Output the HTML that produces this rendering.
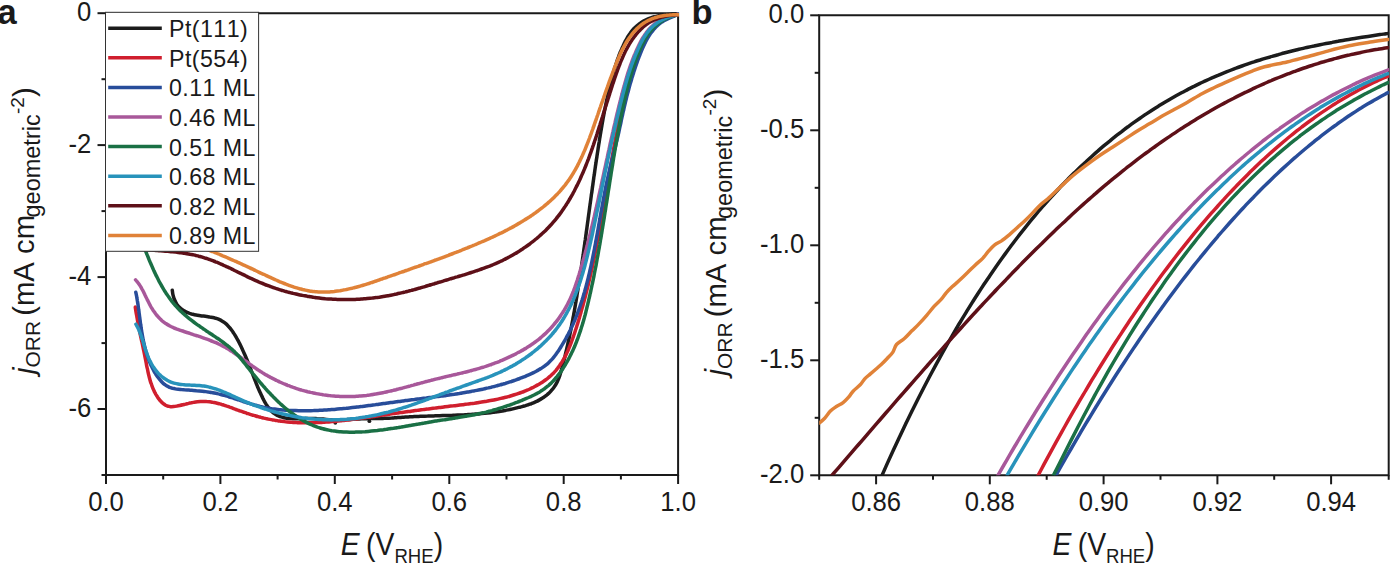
<!DOCTYPE html>
<html><head><meta charset="utf-8"><style>
html,body{margin:0;padding:0;background:#fff;overflow:hidden;}
svg{display:block;}
text{font-family:"Liberation Sans",sans-serif;fill:#1a1a1a;font-kerning:none;}
.tl{font-size:28.2px;}
.lg{font-size:23.2px;letter-spacing:0.45px;}
.al{font-size:28.5px;}
.xl{font-size:30.5px;}
.sub{font-size:20px;}
.sub2{font-size:23.5px;}
.sub3{font-size:21px;}
.yl{font-size:29.3px;}
.sup{font-size:19px;}
.pl{font-size:34.5px;font-weight:bold;}
.ax{stroke:#1a1a1a;stroke-width:2;fill:none;stroke-linecap:butt;}
.cv path{fill:none;stroke-width:3.5;stroke-linejoin:round;stroke-linecap:round;}
</style></head><body>
<svg width="1390" height="563" viewBox="0 0 1390 563">
<defs><clipPath id="ca"><rect x="106" y="12" width="573" height="463"/></clipPath>
<clipPath id="cb"><rect x="819.2" y="14" width="570" height="461.3"/></clipPath></defs>
<path d="M106.0,13.2 H678.1 V475.0 H106.0 Z" class="ax"/>
<path d="M106.0,475.0 v9" class="ax"/>
<path d="M220.4,475.0 v9" class="ax"/>
<path d="M334.8,475.0 v9" class="ax"/>
<path d="M449.3,475.0 v9" class="ax"/>
<path d="M563.7,475.0 v9" class="ax"/>
<path d="M678.1,475.0 v9" class="ax"/>
<path d="M163.2,475.0 v4.5" class="ax"/>
<path d="M277.6,475.0 v4.5" class="ax"/>
<path d="M392.1,475.0 v4.5" class="ax"/>
<path d="M506.5,475.0 v4.5" class="ax"/>
<path d="M620.9,475.0 v4.5" class="ax"/>
<path d="M106.0,13.2 h-8.5" class="ax"/>
<path d="M106.0,145.1 h-8.5" class="ax"/>
<path d="M106.0,277.1 h-8.5" class="ax"/>
<path d="M106.0,409.0 h-8.5" class="ax"/>
<path d="M106.0,79.2 h-4.5" class="ax"/>
<path d="M106.0,211.1 h-4.5" class="ax"/>
<path d="M106.0,343.1 h-4.5" class="ax"/>
<path d="M106.0,475.0 h-4.5" class="ax"/>
<text transform="translate(106.0,511.2) scale(0.91,1)" text-anchor="middle" class="tl">0.0</text>
<text transform="translate(220.4,511.2) scale(0.91,1)" text-anchor="middle" class="tl">0.2</text>
<text transform="translate(334.8,511.2) scale(0.91,1)" text-anchor="middle" class="tl">0.4</text>
<text transform="translate(449.3,511.2) scale(0.91,1)" text-anchor="middle" class="tl">0.6</text>
<text transform="translate(563.7,511.2) scale(0.91,1)" text-anchor="middle" class="tl">0.8</text>
<text transform="translate(678.1,511.2) scale(0.91,1)" text-anchor="middle" class="tl">1.0</text>
<text transform="translate(91.2,21.0) scale(0.91,1)" text-anchor="end" class="tl">0</text>
<text transform="translate(91.2,152.9) scale(0.91,1)" text-anchor="end" class="tl">-2</text>
<text transform="translate(91.2,284.9) scale(0.91,1)" text-anchor="end" class="tl">-4</text>
<text transform="translate(91.2,416.8) scale(0.91,1)" text-anchor="end" class="tl">-6</text>
<g class="cv" clip-path="url(#ca)">
<path d="M172.3,290.3 C172.4,290.8 172.5,292.3 172.7,293.3 C172.8,294.3 173.1,295.3 173.4,296.4 C173.6,297.4 174.0,298.4 174.4,299.3 C174.7,300.3 175.2,301.2 175.7,302.1 C176.1,303.0 176.7,303.9 177.2,304.7 C177.8,305.5 178.4,306.3 179.1,307.0 C179.7,307.7 180.4,308.3 181.2,308.9 C181.9,309.5 182.7,310.1 183.5,310.6 C184.3,311.1 185.1,311.5 186.0,311.9 C186.9,312.3 187.7,312.7 188.7,313.0 C189.6,313.4 190.5,313.7 191.5,314.0 C192.4,314.2 193.4,314.5 194.4,314.7 C195.4,314.9 196.4,315.1 197.4,315.2 C198.4,315.4 199.5,315.6 200.5,315.7 C201.5,315.9 202.6,316.0 203.6,316.1 C204.7,316.2 205.7,316.4 206.7,316.5 C207.8,316.7 208.8,316.8 209.8,317.0 C210.8,317.1 211.8,317.3 212.8,317.5 C213.8,317.7 214.8,318.0 215.7,318.3 C216.7,318.5 217.6,318.8 218.5,319.2 C219.4,319.6 220.3,320.0 221.1,320.4 C221.9,320.9 222.7,321.4 223.5,321.9 C224.3,322.5 225.1,323.1 225.8,323.7 C226.5,324.3 227.2,325.0 227.9,325.7 C228.6,326.4 229.2,327.2 229.9,327.9 C230.5,328.7 231.1,329.5 231.7,330.3 C232.3,331.1 232.9,331.9 233.4,332.8 C234.0,333.6 234.5,334.5 235.1,335.4 C235.6,336.3 236.1,337.1 236.6,338.0 C237.1,338.9 237.6,339.8 238.1,340.7 C238.6,341.6 239.0,342.5 239.5,343.4 C240.0,344.3 240.4,345.2 240.9,346.1 C241.3,347.0 241.7,347.9 242.2,348.8 C242.6,349.8 243.0,350.7 243.4,351.6 C243.8,352.5 244.2,353.4 244.6,354.3 C245.0,355.2 245.4,356.1 245.8,357.0 C246.2,358.0 246.6,358.9 247.0,359.8 C247.3,360.7 247.7,361.6 248.1,362.5 C248.4,363.5 248.8,364.4 249.2,365.3 C249.5,366.2 249.9,367.1 250.3,368.1 C250.6,369.0 251.0,369.9 251.3,370.8 C251.7,371.8 252.0,372.7 252.4,373.6 C252.8,374.5 253.1,375.5 253.5,376.4 C253.8,377.3 254.2,378.2 254.6,379.2 C254.9,380.1 255.3,381.0 255.7,381.9 C256.0,382.9 256.4,383.8 256.8,384.7 C257.2,385.6 257.5,386.6 257.9,387.5 C258.3,388.4 258.7,389.3 259.1,390.3 C259.5,391.2 259.9,392.1 260.4,393.0 C260.8,394.0 261.2,394.9 261.7,395.8 C262.1,396.7 262.5,397.6 263.0,398.6 C263.5,399.5 263.9,400.4 264.4,401.3 C264.9,402.2 265.4,403.1 265.9,403.9 C266.5,404.8 267.0,405.7 267.6,406.5 C268.2,407.3 268.7,408.1 269.4,408.9 C270.0,409.6 270.6,410.4 271.3,411.0 C272.0,411.7 272.7,412.4 273.5,413.0 C274.2,413.6 275.0,414.1 275.8,414.6 C276.6,415.1 277.5,415.6 278.4,415.9 C279.3,416.3 280.2,416.7 281.2,416.9 C282.1,417.2 283.1,417.5 284.1,417.7 C285.1,417.9 286.1,418.0 287.1,418.2 C288.1,418.3 289.1,418.4 290.1,418.5 C291.1,418.6 292.1,418.6 293.1,418.7 C294.1,418.7 295.2,418.7 296.2,418.8 C297.2,418.8 298.2,418.8 299.2,418.8 C300.2,418.7 301.2,418.7 302.2,418.7 C303.2,418.7 304.2,418.6 305.2,418.6 C306.2,418.6 307.3,418.6 308.3,418.6 C309.3,418.5 310.3,418.5 311.3,418.5 C312.3,418.5 313.3,418.5 314.3,418.5 C315.3,418.6 316.3,418.6 317.2,418.7 C318.2,418.7 319.2,418.8 320.2,418.9 C321.2,419.0 322.2,419.1 323.2,419.1 C324.2,419.2 325.2,419.3 326.2,419.4 C327.1,419.5 328.1,419.6 329.1,419.7 C330.1,419.8 331.1,419.9 332.1,419.9 C333.1,420.0 334.1,420.0 335.1,420.0 C336.0,420.1 337.0,420.1 338.0,420.1 C339.0,420.0 340.0,420.0 341.0,420.0 C342.0,419.9 343.0,419.9 344.0,419.8 C345.0,419.7 346.0,419.6 347.0,419.6 C348.0,419.5 349.0,419.4 350.0,419.4 C351.0,419.3 352.0,419.2 353.0,419.1 C354.0,419.1 355.0,419.0 356.0,419.0 C357.0,418.9 358.0,418.9 359.0,418.9 C360.0,418.8 360.9,418.8 361.9,418.8 C362.9,418.7 363.9,418.7 364.9,418.7 C365.9,418.7 366.9,418.7 367.9,418.7 C368.9,418.6 369.9,418.6 370.9,418.6 C371.9,418.6 372.9,418.6 373.9,418.6 C374.9,418.6 375.9,418.6 376.9,418.5 C377.9,418.5 378.9,418.5 379.9,418.5 C380.9,418.5 381.9,418.4 382.9,418.4 C383.9,418.4 384.8,418.3 385.8,418.3 C386.8,418.3 387.8,418.2 388.8,418.2 C389.8,418.1 390.8,418.0 391.8,418.0 C392.8,417.9 393.8,417.9 394.8,417.8 C395.8,417.7 396.8,417.7 397.8,417.6 C398.8,417.5 399.8,417.5 400.8,417.4 C401.8,417.3 402.8,417.3 403.8,417.2 C404.8,417.1 405.8,417.1 406.8,417.0 C407.8,416.9 408.8,416.9 409.8,416.8 C410.7,416.8 411.7,416.7 412.7,416.7 C413.7,416.6 414.7,416.6 415.7,416.5 C416.7,416.5 417.7,416.4 418.7,416.4 C419.7,416.4 420.7,416.3 421.7,416.3 C422.7,416.2 423.7,416.2 424.7,416.2 C425.7,416.1 426.7,416.1 427.7,416.1 C428.7,416.0 429.7,416.0 430.7,416.0 C431.7,416.0 432.7,415.9 433.7,415.9 C434.7,415.9 435.7,415.8 436.7,415.8 C437.7,415.8 438.7,415.8 439.7,415.7 C440.7,415.7 441.7,415.7 442.7,415.6 C443.7,415.6 444.7,415.6 445.7,415.6 C446.7,415.5 447.7,415.5 448.7,415.5 C449.7,415.4 450.7,415.4 451.7,415.4 C452.7,415.3 453.7,415.3 454.7,415.2 C455.7,415.2 456.7,415.2 457.7,415.1 C458.7,415.1 459.7,415.0 460.7,415.0 C461.7,415.0 462.7,414.9 463.7,414.9 C464.6,414.8 465.6,414.8 466.6,414.7 C467.6,414.6 468.6,414.6 469.6,414.5 C470.6,414.5 471.6,414.4 472.6,414.3 C473.6,414.3 474.6,414.2 475.6,414.1 C476.6,414.0 477.6,414.0 478.6,413.9 C479.6,413.8 480.6,413.7 481.6,413.6 C482.5,413.5 483.5,413.4 484.5,413.3 C485.5,413.2 486.5,413.1 487.5,413.0 C488.5,412.9 489.5,412.8 490.5,412.7 C491.5,412.5 492.5,412.4 493.4,412.3 C494.4,412.2 495.4,412.0 496.4,411.9 C497.4,411.7 498.4,411.6 499.4,411.4 C500.3,411.3 501.3,411.1 502.3,411.0 C503.3,410.8 504.3,410.6 505.3,410.4 C506.2,410.3 507.2,410.1 508.2,409.9 C509.2,409.7 510.2,409.5 511.1,409.3 C512.1,409.1 513.1,408.8 514.0,408.6 C515.0,408.4 516.0,408.2 516.9,407.9 C517.9,407.7 518.9,407.5 519.8,407.2 C520.8,406.9 521.8,406.7 522.7,406.4 C523.7,406.1 524.6,405.9 525.6,405.6 C526.5,405.3 527.5,405.0 528.4,404.7 C529.4,404.4 530.3,404.0 531.3,403.7 C532.2,403.3 533.1,403.0 534.0,402.6 C535.0,402.2 535.9,401.8 536.8,401.3 C537.7,400.9 538.6,400.4 539.5,399.9 C540.4,399.4 541.2,398.9 542.1,398.3 C542.9,397.8 543.8,397.2 544.6,396.6 C545.4,396.0 546.2,395.4 547.0,394.8 C547.8,394.1 548.5,393.4 549.3,392.8 C550.0,392.1 550.7,391.3 551.3,390.6 C552.0,389.9 552.7,389.1 553.3,388.3 C553.9,387.5 554.4,386.7 554.9,385.9 C555.5,385.1 556.0,384.2 556.4,383.4 C556.9,382.5 557.3,381.6 557.7,380.7 C558.1,379.8 558.5,378.9 558.9,378.0 C559.2,377.0 559.5,376.1 559.9,375.2 C560.2,374.2 560.5,373.3 560.8,372.3 C561.1,371.4 561.3,370.4 561.6,369.4 C561.9,368.4 562.1,367.5 562.4,366.5 C562.6,365.5 562.9,364.6 563.1,363.6 C563.4,362.6 563.6,361.6 563.9,360.7 C564.1,359.7 564.4,358.7 564.6,357.8 C564.9,356.8 565.1,355.8 565.3,354.8 C565.6,353.9 565.8,352.9 566.0,351.9 C566.2,350.9 566.5,350.0 566.7,349.0 C566.9,348.0 567.1,347.0 567.4,346.1 C567.6,345.1 567.8,344.1 568.0,343.1 C568.2,342.2 568.4,341.2 568.6,340.2 C568.9,339.2 569.1,338.3 569.3,337.3 C569.5,336.3 569.7,335.3 569.9,334.3 C570.1,333.4 570.3,332.4 570.5,331.4 C570.7,330.4 570.9,329.4 571.1,328.5 C571.3,327.5 571.4,326.5 571.6,325.5 C571.8,324.6 572.0,323.6 572.2,322.6 C572.4,321.6 572.6,320.6 572.8,319.7 C572.9,318.7 573.1,317.7 573.3,316.7 C573.5,315.7 573.7,314.8 573.8,313.8 C574.0,312.8 574.2,311.8 574.4,310.8 C574.5,309.8 574.7,308.9 574.9,307.9 C575.0,306.9 575.2,305.9 575.4,304.9 C575.5,303.9 575.7,303.0 575.9,302.0 C576.0,301.0 576.2,300.0 576.4,299.0 C576.5,298.0 576.7,297.1 576.9,296.1 C577.0,295.1 577.2,294.1 577.3,293.1 C577.5,292.1 577.7,291.2 577.8,290.2 C578.0,289.2 578.1,288.2 578.3,287.2 C578.4,286.2 578.6,285.3 578.8,284.3 C578.9,283.3 579.1,282.3 579.2,281.3 C579.4,280.3 579.5,279.3 579.7,278.4 C579.8,277.4 580.0,276.4 580.1,275.4 C580.3,274.4 580.4,273.4 580.6,272.4 C580.7,271.5 580.9,270.5 581.0,269.5 C581.2,268.5 581.3,267.5 581.5,266.5 C581.6,265.5 581.7,264.5 581.9,263.6 C582.0,262.6 582.2,261.6 582.3,260.6 C582.5,259.6 582.6,258.6 582.7,257.6 C582.9,256.6 583.0,255.7 583.2,254.7 C583.3,253.7 583.5,252.7 583.6,251.7 C583.7,250.7 583.9,249.7 584.0,248.7 C584.1,247.8 584.3,246.8 584.4,245.8 C584.6,244.8 584.7,243.8 584.8,242.8 C585.0,241.8 585.1,240.8 585.3,239.8 C585.4,238.9 585.5,237.9 585.7,236.9 C585.8,235.9 585.9,234.9 586.1,233.9 C586.2,232.9 586.3,231.9 586.5,230.9 C586.6,230.0 586.8,229.0 586.9,228.0 C587.0,227.0 587.2,226.0 587.3,225.0 C587.4,224.0 587.6,223.0 587.7,222.0 C587.8,221.1 588.0,220.1 588.1,219.1 C588.2,218.1 588.4,217.1 588.5,216.1 C588.6,215.1 588.8,214.1 588.9,213.1 C589.0,212.1 589.2,211.2 589.3,210.2 C589.4,209.2 589.6,208.2 589.7,207.2 C589.9,206.2 590.0,205.2 590.1,204.2 C590.3,203.2 590.4,202.3 590.5,201.3 C590.7,200.3 590.8,199.3 590.9,198.3 C591.1,197.3 591.2,196.3 591.3,195.3 C591.5,194.3 591.6,193.4 591.8,192.4 C591.9,191.4 592.0,190.4 592.2,189.4 C592.3,188.4 592.4,187.4 592.6,186.4 C592.7,185.4 592.9,184.5 593.0,183.5 C593.1,182.5 593.3,181.5 593.4,180.5 C593.6,179.5 593.7,178.5 593.8,177.5 C594.0,176.5 594.1,175.6 594.3,174.6 C594.4,173.6 594.5,172.6 594.7,171.6 C594.8,170.6 595.0,169.6 595.1,168.6 C595.3,167.6 595.4,166.7 595.5,165.7 C595.7,164.7 595.8,163.7 596.0,162.7 C596.1,161.7 596.3,160.7 596.4,159.7 C596.6,158.8 596.7,157.8 596.9,156.8 C597.0,155.8 597.2,154.8 597.3,153.8 C597.5,152.8 597.6,151.8 597.8,150.9 C597.9,149.9 598.1,148.9 598.2,147.9 C598.4,146.9 598.5,145.9 598.7,144.9 C598.8,144.0 599.0,143.0 599.2,142.0 C599.3,141.0 599.5,140.0 599.6,139.0 C599.8,138.0 600.0,137.0 600.1,136.1 C600.3,135.1 600.4,134.1 600.6,133.1 C600.8,132.1 600.9,131.1 601.1,130.2 C601.3,129.2 601.4,128.2 601.6,127.2 C601.8,126.2 601.9,125.2 602.1,124.2 C602.3,123.3 602.4,122.3 602.6,121.3 C602.8,120.3 603.0,119.3 603.1,118.3 C603.3,117.4 603.5,116.4 603.7,115.4 C603.9,114.4 604.0,113.4 604.2,112.5 C604.4,111.5 604.6,110.5 604.8,109.5 C605.0,108.5 605.2,107.6 605.4,106.6 C605.6,105.6 605.8,104.6 606.0,103.6 C606.2,102.7 606.4,101.7 606.6,100.7 C606.8,99.7 607.0,98.8 607.2,97.8 C607.4,96.8 607.6,95.8 607.8,94.9 C608.0,93.9 608.3,92.9 608.5,91.9 C608.7,91.0 608.9,90.0 609.2,89.0 C609.4,88.1 609.6,87.1 609.9,86.1 C610.1,85.1 610.3,84.2 610.6,83.2 C610.8,82.2 611.1,81.3 611.3,80.3 C611.6,79.3 611.8,78.4 612.1,77.4 C612.3,76.4 612.6,75.5 612.9,74.5 C613.1,73.6 613.4,72.6 613.7,71.6 C613.9,70.7 614.2,69.7 614.5,68.8 C614.8,67.8 615.1,66.9 615.4,65.9 C615.7,64.9 616.0,64.0 616.3,63.1 C616.6,62.1 617.0,61.2 617.3,60.2 C617.6,59.3 617.9,58.3 618.3,57.4 C618.6,56.5 619.0,55.5 619.3,54.6 C619.7,53.7 620.1,52.7 620.5,51.8 C620.8,50.9 621.2,50.0 621.6,49.1 C622.0,48.1 622.4,47.2 622.9,46.3 C623.3,45.4 623.7,44.5 624.1,43.6 C624.6,42.7 625.0,41.8 625.5,40.9 C626.0,40.0 626.5,39.2 627.0,38.3 C627.5,37.4 628.0,36.6 628.5,35.7 C629.0,34.9 629.6,34.1 630.2,33.3 C630.8,32.4 631.4,31.7 632.0,30.9 C632.6,30.1 633.3,29.4 633.9,28.6 C634.6,27.9 635.3,27.2 636.1,26.5 C636.8,25.9 637.6,25.2 638.4,24.6 C639.1,24.0 640.0,23.4 640.8,22.8 C641.6,22.3 642.5,21.7 643.3,21.2 C644.2,20.8 645.1,20.3 646.0,19.9 C646.9,19.4 647.8,19.0 648.7,18.6 C649.6,18.3 650.6,17.9 651.5,17.6 C652.5,17.3 653.4,17.0 654.4,16.8 C655.3,16.5 656.3,16.3 657.3,16.1 C658.3,15.9 659.3,15.7 660.2,15.5 C661.2,15.3 662.2,15.2 663.2,15.0 C664.2,14.9 665.2,14.8 666.2,14.7 C667.2,14.6 668.2,14.5 669.2,14.4 C670.2,14.3 671.2,14.2 672.2,14.1 C673.2,14.1 674.2,14.0 675.1,13.9 C676.1,13.9 677.6,13.8 678.1,13.8" stroke="#1c1c1c"/>
<circle cx="335.3" cy="422.8" r="1.9" fill="#1c1c1c"/>
<circle cx="369.4" cy="421.2" r="1.9" fill="#1c1c1c"/>
<path d="M135.3,307.1 C135.3,307.6 135.6,309.1 135.7,310.1 C135.9,311.2 136.1,312.2 136.2,313.2 C136.4,314.2 136.6,315.2 136.8,316.2 C136.9,317.2 137.1,318.1 137.3,319.1 C137.5,320.1 137.7,321.1 137.8,322.1 C138.0,323.1 138.2,324.0 138.4,325.0 C138.6,326.0 138.8,326.9 139.0,327.9 C139.2,328.9 139.4,329.8 139.6,330.8 C139.8,331.8 139.9,332.7 140.1,333.7 C140.3,334.6 140.5,335.6 140.7,336.6 C140.9,337.5 141.1,338.5 141.3,339.4 C141.5,340.4 141.7,341.4 142.0,342.3 C142.2,343.3 142.4,344.2 142.6,345.2 C142.8,346.2 143.0,347.1 143.2,348.1 C143.4,349.1 143.6,350.0 143.8,351.0 C144.0,352.0 144.2,353.0 144.4,353.9 C144.6,354.9 144.8,355.9 145.0,356.9 C145.2,357.9 145.4,358.8 145.6,359.8 C145.8,360.8 146.0,361.8 146.2,362.8 C146.3,363.8 146.5,364.8 146.7,365.8 C146.9,366.8 147.1,367.8 147.4,368.8 C147.6,369.9 147.8,370.9 148.0,371.9 C148.2,372.9 148.4,373.9 148.7,374.9 C148.9,375.8 149.2,376.8 149.4,377.8 C149.7,378.8 150.0,379.8 150.2,380.8 C150.5,381.7 150.8,382.7 151.2,383.6 C151.5,384.6 151.8,385.5 152.2,386.5 C152.5,387.4 152.9,388.3 153.3,389.2 C153.7,390.2 154.1,391.1 154.5,391.9 C155.0,392.8 155.5,393.7 155.9,394.5 C156.4,395.4 157.0,396.2 157.5,397.0 C158.1,397.9 158.6,398.7 159.2,399.4 C159.8,400.2 160.5,401.0 161.1,401.7 C161.8,402.3 162.5,403.0 163.3,403.6 C164.0,404.2 164.8,404.7 165.6,405.2 C166.4,405.6 167.2,406.0 168.1,406.2 C168.9,406.5 169.9,406.6 170.8,406.7 C171.7,406.8 172.7,406.7 173.7,406.6 C174.7,406.5 175.7,406.3 176.7,406.1 C177.7,405.9 178.7,405.7 179.7,405.5 C180.7,405.3 181.6,405.1 182.6,404.8 C183.6,404.6 184.6,404.3 185.6,404.1 C186.6,403.9 187.6,403.6 188.6,403.4 C189.5,403.2 190.5,403.0 191.5,402.8 C192.5,402.5 193.5,402.4 194.5,402.2 C195.5,402.0 196.5,401.9 197.5,401.8 C198.5,401.7 199.5,401.6 200.5,401.5 C201.5,401.5 202.6,401.4 203.6,401.5 C204.6,401.5 205.6,401.5 206.6,401.6 C207.6,401.6 208.6,401.7 209.6,401.8 C210.6,402.0 211.6,402.1 212.6,402.3 C213.6,402.4 214.6,402.6 215.5,402.8 C216.5,403.0 217.5,403.3 218.4,403.5 C219.4,403.8 220.3,404.0 221.3,404.3 C222.2,404.6 223.2,404.9 224.1,405.2 C225.1,405.5 226.0,405.8 226.9,406.1 C227.9,406.4 228.8,406.8 229.7,407.1 C230.7,407.4 231.6,407.8 232.5,408.1 C233.5,408.5 234.4,408.8 235.3,409.2 C236.3,409.5 237.2,409.9 238.1,410.2 C239.1,410.5 240.0,410.9 240.9,411.2 C241.9,411.6 242.8,411.9 243.8,412.2 C244.7,412.5 245.7,412.9 246.6,413.2 C247.6,413.5 248.5,413.8 249.5,414.1 C250.4,414.4 251.4,414.7 252.3,415.0 C253.3,415.3 254.2,415.5 255.2,415.8 C256.2,416.1 257.1,416.4 258.1,416.6 C259.0,416.9 260.0,417.1 261.0,417.4 C261.9,417.6 262.9,417.9 263.9,418.1 C264.8,418.3 265.8,418.6 266.8,418.8 C267.8,419.0 268.7,419.2 269.7,419.4 C270.7,419.6 271.7,419.8 272.6,419.9 C273.6,420.1 274.6,420.3 275.6,420.4 C276.5,420.6 277.5,420.8 278.5,420.9 C279.5,421.0 280.4,421.2 281.4,421.3 C282.4,421.4 283.4,421.5 284.4,421.6 C285.3,421.8 286.3,421.9 287.3,421.9 C288.3,422.0 289.3,422.1 290.3,422.2 C291.3,422.3 292.2,422.3 293.2,422.4 C294.2,422.5 295.2,422.5 296.2,422.6 C297.2,422.6 298.2,422.7 299.1,422.7 C300.1,422.7 301.1,422.7 302.1,422.8 C303.1,422.8 304.1,422.8 305.1,422.8 C306.1,422.8 307.1,422.8 308.1,422.8 C309.0,422.8 310.0,422.8 311.0,422.8 C312.0,422.8 313.0,422.7 314.0,422.7 C315.0,422.7 316.0,422.6 317.0,422.6 C318.0,422.6 319.0,422.5 320.0,422.5 C321.0,422.4 322.0,422.4 323.0,422.3 C324.0,422.2 325.0,422.2 325.9,422.1 C326.9,422.0 327.9,422.0 328.9,421.9 C329.9,421.8 330.9,421.7 331.9,421.6 C332.9,421.5 333.9,421.5 334.9,421.4 C335.9,421.3 336.9,421.2 337.9,421.1 C338.9,421.0 339.9,420.9 340.9,420.8 C341.9,420.7 342.9,420.5 343.9,420.4 C344.9,420.3 345.9,420.2 346.9,420.1 C347.9,420.0 348.9,419.8 349.9,419.7 C350.9,419.6 351.9,419.5 352.9,419.3 C353.9,419.2 354.9,419.1 355.9,418.9 C356.9,418.8 357.9,418.7 358.9,418.5 C359.9,418.4 360.9,418.3 361.9,418.1 C362.9,418.0 363.8,417.8 364.8,417.7 C365.8,417.6 366.8,417.4 367.8,417.3 C368.8,417.1 369.8,417.0 370.8,416.9 C371.8,416.7 372.8,416.6 373.8,416.4 C374.8,416.3 375.8,416.1 376.8,416.0 C377.8,415.8 378.8,415.7 379.8,415.5 C380.8,415.4 381.8,415.3 382.8,415.1 C383.8,415.0 384.7,414.8 385.7,414.7 C386.7,414.5 387.7,414.4 388.7,414.3 C389.7,414.1 390.7,414.0 391.7,413.8 C392.7,413.7 393.7,413.6 394.7,413.4 C395.6,413.3 396.6,413.1 397.6,413.0 C398.6,412.9 399.6,412.7 400.6,412.6 C401.6,412.5 402.6,412.3 403.6,412.2 C404.5,412.1 405.5,411.9 406.5,411.8 C407.5,411.7 408.5,411.5 409.5,411.4 C410.5,411.3 411.4,411.1 412.4,411.0 C413.4,410.9 414.4,410.7 415.4,410.6 C416.4,410.5 417.4,410.3 418.3,410.2 C419.3,410.1 420.3,410.0 421.3,409.8 C422.3,409.7 423.3,409.6 424.3,409.4 C425.2,409.3 426.2,409.2 427.2,409.1 C428.2,408.9 429.2,408.8 430.2,408.7 C431.1,408.6 432.1,408.4 433.1,408.3 C434.1,408.2 435.1,408.1 436.1,407.9 C437.0,407.8 438.0,407.7 439.0,407.6 C440.0,407.5 441.0,407.3 442.0,407.2 C442.9,407.1 443.9,407.0 444.9,406.8 C445.9,406.7 446.9,406.6 447.9,406.5 C448.8,406.4 449.8,406.2 450.8,406.1 C451.8,406.0 452.8,405.9 453.7,405.8 C454.7,405.6 455.7,405.5 456.7,405.4 C457.7,405.3 458.7,405.2 459.6,405.0 C460.6,404.9 461.6,404.8 462.6,404.7 C463.6,404.6 464.6,404.4 465.5,404.3 C466.5,404.2 467.5,404.1 468.5,403.9 C469.5,403.8 470.5,403.7 471.4,403.6 C472.4,403.4 473.4,403.3 474.4,403.2 C475.4,403.0 476.4,402.9 477.3,402.7 C478.3,402.6 479.3,402.4 480.3,402.3 C481.3,402.2 482.3,402.0 483.2,401.8 C484.2,401.7 485.2,401.5 486.2,401.4 C487.2,401.2 488.2,401.0 489.1,400.8 C490.1,400.7 491.1,400.5 492.1,400.3 C493.1,400.1 494.1,399.9 495.0,399.7 C496.0,399.5 497.0,399.3 498.0,399.1 C499.0,398.9 500.0,398.7 500.9,398.4 C501.9,398.2 502.9,398.0 503.9,397.7 C504.9,397.5 505.9,397.2 506.8,397.0 C507.8,396.7 508.8,396.5 509.8,396.2 C510.8,395.9 511.7,395.6 512.7,395.3 C513.7,395.0 514.7,394.7 515.6,394.4 C516.6,394.1 517.6,393.8 518.6,393.4 C519.5,393.1 520.5,392.8 521.4,392.4 C522.4,392.1 523.4,391.7 524.3,391.3 C525.3,391.0 526.2,390.6 527.1,390.2 C528.1,389.8 529.0,389.4 529.9,389.0 C530.8,388.5 531.7,388.1 532.6,387.7 C533.5,387.2 534.4,386.8 535.3,386.3 C536.2,385.8 537.1,385.3 537.9,384.8 C538.8,384.4 539.6,383.8 540.5,383.3 C541.3,382.8 542.1,382.3 543.0,381.7 C543.8,381.2 544.6,380.6 545.4,380.0 C546.1,379.5 546.9,378.9 547.7,378.3 C548.4,377.7 549.2,377.0 549.9,376.4 C550.6,375.8 551.3,375.1 552.0,374.4 C552.7,373.8 553.4,373.1 554.1,372.4 C554.7,371.7 555.4,371.0 556.0,370.3 C556.6,369.5 557.2,368.8 557.8,368.0 C558.4,367.3 559.0,366.5 559.5,365.7 C560.1,364.9 560.6,364.1 561.1,363.3 C561.7,362.5 562.2,361.7 562.7,360.8 C563.2,360.0 563.7,359.1 564.1,358.3 C564.6,357.4 565.1,356.6 565.5,355.7 C566.0,354.8 566.4,353.9 566.8,353.0 C567.2,352.1 567.6,351.2 568.1,350.3 C568.5,349.4 568.9,348.5 569.2,347.5 C569.6,346.6 570.0,345.7 570.4,344.8 C570.7,343.8 571.1,342.9 571.5,341.9 C571.8,341.0 572.2,340.0 572.5,339.1 C572.8,338.1 573.2,337.2 573.5,336.2 C573.8,335.2 574.2,334.3 574.5,333.3 C574.8,332.4 575.1,331.4 575.4,330.4 C575.8,329.5 576.1,328.5 576.4,327.5 C576.7,326.6 577.0,325.6 577.3,324.6 C577.6,323.7 577.9,322.7 578.2,321.7 C578.5,320.8 578.8,319.8 579.1,318.8 C579.4,317.9 579.6,316.9 579.9,315.9 C580.2,315.0 580.5,314.0 580.8,313.0 C581.1,312.1 581.3,311.1 581.6,310.1 C581.9,309.1 582.1,308.2 582.4,307.2 C582.7,306.2 583.0,305.3 583.2,304.3 C583.5,303.3 583.7,302.4 584.0,301.4 C584.3,300.4 584.5,299.4 584.8,298.5 C585.0,297.5 585.3,296.5 585.5,295.6 C585.8,294.6 586.0,293.6 586.3,292.6 C586.5,291.7 586.8,290.7 587.0,289.7 C587.2,288.8 587.5,287.8 587.7,286.8 C588.0,285.8 588.2,284.9 588.4,283.9 C588.7,282.9 588.9,282.0 589.1,281.0 C589.3,280.0 589.6,279.0 589.8,278.1 C590.0,277.1 590.2,276.1 590.5,275.1 C590.7,274.2 590.9,273.2 591.1,272.2 C591.3,271.2 591.5,270.3 591.8,269.3 C592.0,268.3 592.2,267.3 592.4,266.4 C592.6,265.4 592.8,264.4 593.0,263.4 C593.2,262.5 593.4,261.5 593.6,260.5 C593.8,259.5 594.0,258.6 594.2,257.6 C594.4,256.6 594.6,255.6 594.8,254.7 C595.0,253.7 595.2,252.7 595.4,251.7 C595.6,250.8 595.8,249.8 596.0,248.8 C596.2,247.8 596.4,246.8 596.6,245.9 C596.8,244.9 597.0,243.9 597.1,242.9 C597.3,242.0 597.5,241.0 597.7,240.0 C597.9,239.0 598.1,238.0 598.3,237.1 C598.4,236.1 598.6,235.1 598.8,234.1 C599.0,233.2 599.2,232.2 599.3,231.2 C599.5,230.2 599.7,229.2 599.9,228.3 C600.1,227.3 600.2,226.3 600.4,225.3 C600.6,224.4 600.8,223.4 600.9,222.4 C601.1,221.4 601.3,220.4 601.5,219.5 C601.6,218.5 601.8,217.5 602.0,216.5 C602.1,215.5 602.3,214.6 602.5,213.6 C602.7,212.6 602.8,211.6 603.0,210.6 C603.2,209.7 603.3,208.7 603.5,207.7 C603.7,206.7 603.8,205.7 604.0,204.8 C604.2,203.8 604.3,202.8 604.5,201.8 C604.7,200.9 604.8,199.9 605.0,198.9 C605.2,197.9 605.3,196.9 605.5,196.0 C605.7,195.0 605.8,194.0 606.0,193.0 C606.2,192.0 606.3,191.1 606.5,190.1 C606.7,189.1 606.8,188.1 607.0,187.1 C607.2,186.2 607.3,185.2 607.5,184.2 C607.7,183.2 607.8,182.2 608.0,181.2 C608.2,180.3 608.3,179.3 608.5,178.3 C608.7,177.3 608.8,176.3 609.0,175.4 C609.2,174.4 609.3,173.4 609.5,172.4 C609.7,171.4 609.8,170.5 610.0,169.5 C610.2,168.5 610.4,167.5 610.5,166.5 C610.7,165.6 610.9,164.6 611.0,163.6 C611.2,162.6 611.4,161.6 611.6,160.7 C611.7,159.7 611.9,158.7 612.1,157.7 C612.2,156.7 612.4,155.8 612.6,154.8 C612.8,153.8 612.9,152.8 613.1,151.8 C613.3,150.9 613.5,149.9 613.6,148.9 C613.8,147.9 614.0,146.9 614.2,146.0 C614.4,145.0 614.5,144.0 614.7,143.0 C614.9,142.0 615.1,141.1 615.3,140.1 C615.5,139.1 615.6,138.1 615.8,137.1 C616.0,136.2 616.2,135.2 616.4,134.2 C616.6,133.2 616.8,132.2 617.0,131.3 C617.1,130.3 617.3,129.3 617.5,128.3 C617.7,127.4 617.9,126.4 618.1,125.4 C618.3,124.4 618.5,123.4 618.7,122.5 C618.9,121.5 619.1,120.5 619.3,119.5 C619.5,118.5 619.7,117.6 619.9,116.6 C620.1,115.6 620.3,114.6 620.5,113.7 C620.7,112.7 621.0,111.7 621.2,110.7 C621.4,109.7 621.6,108.8 621.8,107.8 C622.0,106.8 622.2,105.8 622.5,104.9 C622.7,103.9 622.9,102.9 623.1,101.9 C623.4,101.0 623.6,100.0 623.8,99.0 C624.0,98.0 624.3,97.1 624.5,96.1 C624.8,95.1 625.0,94.2 625.2,93.2 C625.5,92.2 625.7,91.3 626.0,90.3 C626.2,89.3 626.5,88.3 626.7,87.4 C627.0,86.4 627.2,85.5 627.5,84.5 C627.8,83.5 628.0,82.6 628.3,81.6 C628.6,80.6 628.8,79.7 629.1,78.7 C629.4,77.8 629.7,76.8 630.0,75.9 C630.2,74.9 630.5,73.9 630.8,73.0 C631.1,72.0 631.4,71.1 631.7,70.1 C632.0,69.2 632.3,68.2 632.6,67.3 C632.9,66.3 633.3,65.4 633.6,64.5 C633.9,63.5 634.2,62.6 634.5,61.6 C634.9,60.7 635.2,59.7 635.5,58.8 C635.9,57.9 636.2,56.9 636.6,56.0 C636.9,55.1 637.3,54.1 637.6,53.2 C638.0,52.3 638.4,51.4 638.7,50.4 C639.1,49.5 639.5,48.6 639.9,47.7 C640.2,46.8 640.6,45.8 641.0,44.9 C641.4,44.0 641.9,43.1 642.3,42.2 C642.7,41.3 643.2,40.4 643.6,39.6 C644.1,38.7 644.6,37.8 645.1,36.9 C645.6,36.1 646.1,35.2 646.6,34.4 C647.2,33.6 647.7,32.7 648.3,31.9 C648.9,31.1 649.5,30.3 650.2,29.5 C650.8,28.7 651.5,28.0 652.1,27.2 C652.8,26.5 653.5,25.8 654.3,25.1 C655.0,24.4 655.8,23.8 656.6,23.2 C657.4,22.5 658.2,22.0 659.0,21.4 C659.8,20.9 660.7,20.4 661.6,20.0 C662.4,19.5 663.4,19.1 664.3,18.8 C665.2,18.4 666.1,18.1 667.1,17.7 C668.0,17.4 668.9,17.1 669.9,16.8 C670.8,16.5 671.8,16.2 672.7,15.9 C673.7,15.6 674.6,15.3 675.5,15.0 C676.4,14.6 677.8,14.1 678.2,13.9" stroke="#d01f2e"/>
<path d="M135.8,292.3 C135.9,292.8 136.2,294.2 136.4,295.2 C136.6,296.1 136.8,297.1 136.9,298.1 C137.1,299.0 137.3,300.0 137.4,301.0 C137.6,302.0 137.7,303.0 137.9,303.9 C138.0,304.9 138.2,305.9 138.3,306.9 C138.4,307.9 138.6,308.9 138.7,309.9 C138.9,310.8 139.0,311.8 139.1,312.8 C139.2,313.8 139.4,314.8 139.5,315.8 C139.6,316.8 139.8,317.8 139.9,318.8 C140.0,319.8 140.2,320.8 140.3,321.8 C140.4,322.8 140.6,323.8 140.7,324.7 C140.9,325.7 141.0,326.7 141.1,327.7 C141.3,328.7 141.4,329.7 141.6,330.7 C141.7,331.7 141.9,332.7 142.1,333.7 C142.2,334.6 142.4,335.6 142.6,336.6 C142.8,337.6 143.0,338.6 143.1,339.6 C143.3,340.5 143.5,341.5 143.8,342.5 C144.0,343.5 144.2,344.4 144.4,345.4 C144.6,346.4 144.9,347.3 145.1,348.3 C145.4,349.3 145.6,350.2 145.9,351.2 C146.2,352.1 146.5,353.1 146.8,354.0 C147.1,355.0 147.4,355.9 147.7,356.9 C148.0,357.8 148.4,358.8 148.7,359.7 C149.1,360.6 149.4,361.6 149.8,362.5 C150.2,363.4 150.6,364.3 151.0,365.2 C151.4,366.1 151.9,367.0 152.3,367.9 C152.8,368.8 153.2,369.7 153.7,370.6 C154.2,371.5 154.7,372.4 155.3,373.3 C155.8,374.1 156.3,375.0 156.9,375.9 C157.5,376.7 158.1,377.5 158.7,378.3 C159.3,379.1 159.9,379.9 160.6,380.6 C161.2,381.3 161.9,382.0 162.6,382.7 C163.3,383.4 164.1,384.0 164.8,384.6 C165.6,385.1 166.4,385.7 167.2,386.1 C168.0,386.6 168.9,387.0 169.7,387.4 C170.6,387.8 171.5,388.0 172.5,388.3 C173.4,388.5 174.3,388.7 175.3,388.9 C176.3,389.1 177.3,389.2 178.3,389.3 C179.2,389.4 180.3,389.5 181.3,389.6 C182.3,389.6 183.3,389.7 184.3,389.8 C185.3,389.8 186.3,389.9 187.3,390.0 C188.3,390.1 189.3,390.1 190.3,390.2 C191.3,390.3 192.3,390.3 193.4,390.4 C194.4,390.5 195.4,390.6 196.4,390.7 C197.4,390.7 198.4,390.8 199.4,390.9 C200.4,391.0 201.4,391.1 202.4,391.2 C203.4,391.3 204.4,391.4 205.4,391.6 C206.3,391.7 207.3,391.8 208.3,392.0 C209.3,392.1 210.3,392.3 211.3,392.4 C212.3,392.6 213.2,392.8 214.2,393.0 C215.2,393.2 216.2,393.4 217.1,393.6 C218.1,393.8 219.1,394.0 220.0,394.3 C221.0,394.5 222.0,394.8 222.9,395.0 C223.9,395.3 224.8,395.6 225.8,395.9 C226.7,396.1 227.7,396.4 228.6,396.7 C229.6,397.0 230.6,397.3 231.5,397.6 C232.5,397.9 233.4,398.2 234.3,398.5 C235.3,398.8 236.2,399.1 237.2,399.5 C238.1,399.8 239.1,400.1 240.0,400.4 C241.0,400.7 241.9,401.0 242.9,401.3 C243.8,401.7 244.8,402.0 245.7,402.3 C246.7,402.6 247.6,402.9 248.6,403.2 C249.5,403.5 250.5,403.8 251.4,404.1 C252.4,404.4 253.3,404.6 254.3,404.9 C255.3,405.2 256.2,405.4 257.2,405.7 C258.1,405.9 259.1,406.2 260.1,406.4 C261.0,406.6 262.0,406.9 263.0,407.1 C264.0,407.3 264.9,407.5 265.9,407.7 C266.9,407.9 267.9,408.0 268.8,408.2 C269.8,408.4 270.8,408.5 271.8,408.7 C272.8,408.8 273.8,409.0 274.8,409.1 C275.8,409.2 276.7,409.3 277.7,409.4 C278.7,409.6 279.7,409.7 280.7,409.8 C281.7,409.9 282.7,409.9 283.7,410.0 C284.7,410.1 285.7,410.2 286.7,410.2 C287.7,410.3 288.7,410.4 289.7,410.4 C290.7,410.5 291.7,410.5 292.7,410.5 C293.7,410.6 294.7,410.6 295.7,410.6 C296.7,410.7 297.7,410.7 298.7,410.7 C299.7,410.7 300.7,410.7 301.7,410.7 C302.7,410.7 303.7,410.7 304.7,410.7 C305.7,410.7 306.7,410.7 307.6,410.7 C308.6,410.7 309.6,410.7 310.6,410.7 C311.6,410.6 312.6,410.6 313.6,410.6 C314.6,410.5 315.6,410.5 316.6,410.5 C317.6,410.4 318.6,410.4 319.6,410.3 C320.6,410.3 321.6,410.2 322.6,410.2 C323.5,410.1 324.5,410.1 325.5,410.0 C326.5,410.0 327.5,409.9 328.5,409.8 C329.5,409.7 330.5,409.7 331.5,409.6 C332.5,409.5 333.5,409.4 334.4,409.4 C335.4,409.3 336.4,409.2 337.4,409.1 C338.4,409.0 339.4,408.9 340.4,408.8 C341.4,408.7 342.4,408.7 343.4,408.6 C344.3,408.5 345.3,408.4 346.3,408.3 C347.3,408.1 348.3,408.0 349.3,407.9 C350.3,407.8 351.3,407.7 352.3,407.6 C353.2,407.5 354.2,407.4 355.2,407.3 C356.2,407.2 357.2,407.0 358.2,406.9 C359.2,406.8 360.2,406.7 361.1,406.6 C362.1,406.4 363.1,406.3 364.1,406.2 C365.1,406.1 366.1,405.9 367.1,405.8 C368.1,405.7 369.0,405.5 370.0,405.4 C371.0,405.3 372.0,405.2 373.0,405.0 C374.0,404.9 375.0,404.8 376.0,404.6 C376.9,404.5 377.9,404.4 378.9,404.2 C379.9,404.1 380.9,404.0 381.9,403.8 C382.9,403.7 383.9,403.5 384.9,403.4 C385.8,403.3 386.8,403.1 387.8,403.0 C388.8,402.9 389.8,402.7 390.8,402.6 C391.8,402.5 392.8,402.3 393.8,402.2 C394.7,402.1 395.7,401.9 396.7,401.8 C397.7,401.7 398.7,401.5 399.7,401.4 C400.7,401.3 401.7,401.1 402.7,401.0 C403.7,400.9 404.7,400.7 405.6,400.6 C406.6,400.5 407.6,400.3 408.6,400.2 C409.6,400.1 410.6,400.0 411.6,399.8 C412.6,399.7 413.6,399.6 414.6,399.5 C415.6,399.3 416.6,399.2 417.6,399.1 C418.6,399.0 419.5,398.8 420.5,398.7 C421.5,398.6 422.5,398.5 423.5,398.3 C424.5,398.2 425.5,398.1 426.5,398.0 C427.5,397.8 428.5,397.7 429.5,397.6 C430.5,397.5 431.5,397.3 432.5,397.2 C433.5,397.1 434.4,397.0 435.4,396.8 C436.4,396.7 437.4,396.6 438.4,396.4 C439.4,396.3 440.4,396.2 441.4,396.1 C442.4,395.9 443.4,395.8 444.4,395.7 C445.4,395.5 446.3,395.4 447.3,395.2 C448.3,395.1 449.3,395.0 450.3,394.8 C451.3,394.7 452.3,394.5 453.3,394.4 C454.3,394.2 455.2,394.1 456.2,393.9 C457.2,393.8 458.2,393.6 459.2,393.5 C460.2,393.3 461.2,393.2 462.1,393.0 C463.1,392.9 464.1,392.7 465.1,392.5 C466.1,392.4 467.0,392.2 468.0,392.0 C469.0,391.8 470.0,391.7 471.0,391.5 C471.9,391.3 472.9,391.1 473.9,390.9 C474.9,390.8 475.9,390.6 476.8,390.4 C477.8,390.2 478.8,390.0 479.7,389.8 C480.7,389.6 481.7,389.4 482.7,389.2 C483.6,389.0 484.6,388.8 485.6,388.5 C486.5,388.3 487.5,388.1 488.5,387.9 C489.4,387.6 490.4,387.4 491.4,387.2 C492.3,386.9 493.3,386.7 494.2,386.5 C495.2,386.2 496.2,386.0 497.1,385.7 C498.1,385.4 499.0,385.2 500.0,384.9 C501.0,384.7 501.9,384.4 502.9,384.1 C503.8,383.8 504.8,383.6 505.7,383.3 C506.7,383.0 507.6,382.7 508.5,382.4 C509.5,382.1 510.4,381.8 511.4,381.5 C512.3,381.2 513.3,380.8 514.2,380.5 C515.1,380.2 516.1,379.9 517.0,379.5 C517.9,379.2 518.9,378.8 519.8,378.5 C520.7,378.1 521.7,377.8 522.6,377.4 C523.5,377.0 524.5,376.7 525.4,376.3 C526.3,375.9 527.2,375.5 528.1,375.1 C529.1,374.7 530.0,374.3 530.9,373.9 C531.8,373.5 532.7,373.1 533.6,372.6 C534.5,372.2 535.4,371.7 536.2,371.3 C537.1,370.8 538.0,370.3 538.8,369.8 C539.7,369.3 540.5,368.8 541.3,368.3 C542.2,367.7 543.0,367.2 543.8,366.6 C544.6,366.0 545.4,365.4 546.1,364.8 C546.9,364.2 547.7,363.6 548.4,362.9 C549.1,362.2 549.8,361.5 550.5,360.8 C551.2,360.1 551.9,359.4 552.6,358.6 C553.2,357.9 553.9,357.1 554.5,356.3 C555.1,355.5 555.7,354.7 556.3,353.9 C556.9,353.0 557.5,352.2 558.0,351.4 C558.6,350.5 559.2,349.7 559.7,348.8 C560.3,348.0 560.8,347.1 561.3,346.3 C561.9,345.4 562.4,344.6 562.9,343.7 C563.4,342.8 563.9,342.0 564.4,341.1 C564.9,340.2 565.4,339.4 565.9,338.5 C566.4,337.6 566.9,336.7 567.3,335.8 C567.8,335.0 568.3,334.1 568.7,333.2 C569.2,332.3 569.6,331.4 570.1,330.5 C570.5,329.6 570.9,328.7 571.3,327.8 C571.8,326.9 572.2,326.0 572.6,325.1 C573.0,324.2 573.4,323.3 573.8,322.4 C574.2,321.5 574.6,320.6 575.0,319.6 C575.3,318.7 575.7,317.8 576.1,316.9 C576.5,316.0 576.8,315.0 577.2,314.1 C577.5,313.2 577.9,312.3 578.2,311.3 C578.6,310.4 578.9,309.5 579.2,308.5 C579.6,307.6 579.9,306.7 580.2,305.7 C580.5,304.8 580.9,303.8 581.2,302.9 C581.5,302.0 581.8,301.0 582.1,300.1 C582.4,299.1 582.7,298.2 583.0,297.2 C583.3,296.3 583.5,295.3 583.8,294.4 C584.1,293.4 584.4,292.5 584.7,291.5 C584.9,290.6 585.2,289.6 585.5,288.6 C585.7,287.7 586.0,286.7 586.2,285.8 C586.5,284.8 586.7,283.8 587.0,282.9 C587.2,281.9 587.5,280.9 587.7,280.0 C588.0,279.0 588.2,278.0 588.4,277.1 C588.7,276.1 588.9,275.1 589.1,274.2 C589.4,273.2 589.6,272.2 589.8,271.2 C590.0,270.3 590.2,269.3 590.5,268.3 C590.7,267.4 590.9,266.4 591.1,265.4 C591.3,264.4 591.5,263.5 591.7,262.5 C591.9,261.5 592.1,260.5 592.3,259.6 C592.5,258.6 592.7,257.6 592.9,256.6 C593.1,255.6 593.3,254.7 593.5,253.7 C593.7,252.7 593.9,251.7 594.1,250.7 C594.3,249.8 594.5,248.8 594.6,247.8 C594.8,246.8 595.0,245.8 595.2,244.9 C595.4,243.9 595.6,242.9 595.7,241.9 C595.9,240.9 596.1,240.0 596.3,239.0 C596.5,238.0 596.6,237.0 596.8,236.0 C597.0,235.0 597.2,234.1 597.4,233.1 C597.5,232.1 597.7,231.1 597.9,230.1 C598.1,229.1 598.2,228.2 598.4,227.2 C598.6,226.2 598.7,225.2 598.9,224.2 C599.1,223.2 599.3,222.3 599.4,221.3 C599.6,220.3 599.8,219.3 600.0,218.3 C600.1,217.3 600.3,216.4 600.5,215.4 C600.7,214.4 600.8,213.4 601.0,212.4 C601.2,211.4 601.4,210.5 601.5,209.5 C601.7,208.5 601.9,207.5 602.1,206.5 C602.3,205.5 602.4,204.6 602.6,203.6 C602.8,202.6 603.0,201.6 603.2,200.6 C603.3,199.7 603.5,198.7 603.7,197.7 C603.9,196.7 604.1,195.7 604.3,194.8 C604.5,193.8 604.7,192.8 604.8,191.8 C605.0,190.8 605.2,189.9 605.4,188.9 C605.6,187.9 605.8,186.9 606.0,186.0 C606.2,185.0 606.4,184.0 606.6,183.0 C606.8,182.1 607.0,181.1 607.3,180.1 C607.5,179.1 607.7,178.2 607.9,177.2 C608.1,176.2 608.3,175.2 608.5,174.3 C608.8,173.3 609.0,172.3 609.2,171.4 C609.4,170.4 609.7,169.4 609.9,168.5 C610.1,167.5 610.4,166.5 610.6,165.6 C610.8,164.6 611.1,163.6 611.3,162.7 C611.6,161.7 611.8,160.7 612.0,159.8 C612.3,158.8 612.5,157.8 612.8,156.9 C613.0,155.9 613.3,155.0 613.5,154.0 C613.8,153.0 614.0,152.1 614.2,151.1 C614.5,150.1 614.7,149.2 615.0,148.2 C615.2,147.2 615.5,146.3 615.7,145.3 C615.9,144.3 616.2,143.4 616.4,142.4 C616.6,141.4 616.9,140.5 617.1,139.5 C617.3,138.5 617.6,137.6 617.8,136.6 C618.0,135.6 618.2,134.6 618.5,133.7 C618.7,132.7 618.9,131.7 619.1,130.8 C619.3,129.8 619.5,128.8 619.7,127.8 C619.9,126.9 620.2,125.9 620.4,124.9 C620.6,123.9 620.8,122.9 621.0,122.0 C621.2,121.0 621.4,120.0 621.6,119.0 C621.8,118.1 622.0,117.1 622.3,116.1 C622.5,115.1 622.7,114.2 622.9,113.2 C623.1,112.2 623.3,111.3 623.6,110.3 C623.8,109.3 624.0,108.3 624.2,107.4 C624.5,106.4 624.7,105.4 624.9,104.5 C625.1,103.5 625.4,102.5 625.6,101.5 C625.8,100.6 626.1,99.6 626.3,98.6 C626.6,97.7 626.8,96.7 627.0,95.7 C627.3,94.8 627.5,93.8 627.8,92.8 C628.0,91.9 628.3,90.9 628.6,89.9 C628.8,89.0 629.1,88.0 629.3,87.1 C629.6,86.1 629.9,85.1 630.1,84.2 C630.4,83.2 630.7,82.3 631.0,81.3 C631.2,80.4 631.5,79.4 631.8,78.4 C632.1,77.5 632.4,76.5 632.7,75.6 C633.0,74.6 633.3,73.7 633.6,72.7 C633.9,71.8 634.2,70.8 634.5,69.9 C634.8,68.9 635.1,68.0 635.4,67.1 C635.8,66.1 636.1,65.2 636.4,64.2 C636.7,63.3 637.1,62.3 637.4,61.4 C637.7,60.5 638.1,59.5 638.4,58.6 C638.8,57.7 639.1,56.7 639.5,55.8 C639.9,54.9 640.2,53.9 640.6,53.0 C641.0,52.1 641.4,51.2 641.7,50.2 C642.1,49.3 642.5,48.4 642.9,47.5 C643.3,46.6 643.7,45.7 644.2,44.8 C644.6,43.9 645.0,43.0 645.5,42.1 C645.9,41.2 646.4,40.3 646.9,39.4 C647.4,38.6 647.9,37.7 648.4,36.9 C648.9,36.0 649.5,35.2 650.0,34.3 C650.6,33.5 651.2,32.7 651.8,31.9 C652.4,31.1 653.0,30.3 653.6,29.6 C654.3,28.8 655.0,28.1 655.6,27.4 C656.3,26.6 657.0,26.0 657.8,25.3 C658.5,24.6 659.3,24.0 660.0,23.4 C660.8,22.8 661.6,22.2 662.5,21.7 C663.3,21.2 664.1,20.7 665.0,20.2 C665.9,19.7 666.8,19.3 667.7,18.9 C668.6,18.5 669.5,18.1 670.4,17.7 C671.3,17.3 672.3,16.9 673.2,16.5 C674.1,16.2 675.0,15.8 675.9,15.4 C676.7,15.0 678.0,14.4 678.4,14.2" stroke="#284d9a"/>
<path d="M135.5,279.8 C135.8,280.2 136.8,281.3 137.4,282.0 C138.0,282.8 138.6,283.6 139.2,284.4 C139.7,285.2 140.3,286.1 140.8,286.9 C141.3,287.8 141.8,288.6 142.2,289.5 C142.7,290.4 143.2,291.2 143.6,292.1 C144.1,293.0 144.5,293.9 144.9,294.8 C145.4,295.7 145.8,296.6 146.2,297.5 C146.7,298.4 147.1,299.3 147.5,300.2 C148.0,301.1 148.4,302.0 148.9,302.9 C149.3,303.8 149.8,304.7 150.3,305.6 C150.7,306.5 151.2,307.4 151.8,308.2 C152.3,309.1 152.8,309.9 153.4,310.8 C154.0,311.6 154.5,312.4 155.2,313.2 C155.8,314.0 156.4,314.8 157.0,315.6 C157.7,316.3 158.3,317.1 159.0,317.8 C159.7,318.5 160.4,319.2 161.2,319.9 C161.9,320.6 162.6,321.2 163.4,321.8 C164.2,322.4 165.0,323.0 165.8,323.6 C166.6,324.1 167.4,324.6 168.3,325.1 C169.1,325.6 170.0,326.0 170.9,326.5 C171.7,326.9 172.6,327.3 173.5,327.7 C174.5,328.0 175.4,328.4 176.3,328.8 C177.2,329.1 178.2,329.5 179.1,329.8 C180.0,330.1 181.0,330.5 181.9,330.8 C182.9,331.1 183.8,331.4 184.7,331.8 C185.7,332.1 186.6,332.4 187.6,332.7 C188.5,333.0 189.5,333.3 190.5,333.6 C191.4,333.9 192.4,334.3 193.3,334.6 C194.3,334.9 195.2,335.2 196.2,335.5 C197.1,335.8 198.1,336.1 199.0,336.4 C200.0,336.8 201.0,337.1 201.9,337.4 C202.8,337.7 203.8,338.0 204.7,338.4 C205.7,338.7 206.6,339.1 207.6,339.4 C208.5,339.7 209.4,340.1 210.4,340.5 C211.3,340.8 212.2,341.2 213.1,341.6 C214.1,341.9 215.0,342.3 215.9,342.7 C216.8,343.1 217.7,343.5 218.6,344.0 C219.5,344.4 220.4,344.8 221.3,345.3 C222.2,345.7 223.0,346.2 223.9,346.6 C224.8,347.1 225.6,347.6 226.5,348.1 C227.4,348.6 228.2,349.1 229.1,349.6 C229.9,350.1 230.7,350.7 231.6,351.2 C232.4,351.8 233.2,352.3 234.1,352.9 C234.9,353.4 235.7,354.0 236.5,354.5 C237.3,355.1 238.2,355.7 239.0,356.3 C239.8,356.8 240.6,357.4 241.4,358.0 C242.2,358.6 243.0,359.2 243.8,359.8 C244.6,360.4 245.4,360.9 246.3,361.5 C247.1,362.1 247.9,362.7 248.7,363.3 C249.5,363.9 250.3,364.5 251.1,365.1 C251.9,365.6 252.7,366.2 253.6,366.8 C254.4,367.4 255.2,367.9 256.0,368.5 C256.9,369.1 257.7,369.6 258.5,370.2 C259.3,370.7 260.2,371.3 261.0,371.8 C261.9,372.3 262.7,372.9 263.6,373.4 C264.4,373.9 265.3,374.4 266.1,374.9 C267.0,375.4 267.9,375.9 268.7,376.4 C269.6,376.9 270.5,377.3 271.4,377.8 C272.2,378.3 273.1,378.7 274.0,379.2 C274.9,379.6 275.8,380.1 276.7,380.5 C277.6,380.9 278.5,381.4 279.4,381.8 C280.3,382.2 281.2,382.6 282.1,383.0 C283.0,383.4 283.9,383.8 284.9,384.2 C285.8,384.6 286.7,384.9 287.6,385.3 C288.6,385.7 289.5,386.0 290.4,386.4 C291.3,386.7 292.3,387.1 293.2,387.4 C294.2,387.7 295.1,388.0 296.0,388.4 C297.0,388.7 297.9,389.0 298.9,389.3 C299.8,389.6 300.8,389.8 301.7,390.1 C302.7,390.4 303.7,390.7 304.6,390.9 C305.6,391.2 306.5,391.4 307.5,391.7 C308.5,391.9 309.4,392.1 310.4,392.4 C311.4,392.6 312.4,392.8 313.3,393.0 C314.3,393.2 315.3,393.4 316.3,393.6 C317.2,393.8 318.2,394.0 319.2,394.1 C320.2,394.3 321.2,394.5 322.2,394.6 C323.1,394.8 324.1,394.9 325.1,395.1 C326.1,395.2 327.1,395.3 328.1,395.4 C329.1,395.5 330.1,395.7 331.0,395.8 C332.0,395.8 333.0,395.9 334.0,396.0 C335.0,396.1 336.0,396.2 337.0,396.2 C338.0,396.3 339.0,396.3 340.0,396.4 C341.0,396.4 342.0,396.5 343.0,396.5 C344.0,396.5 345.0,396.5 345.9,396.5 C346.9,396.6 347.9,396.6 348.9,396.5 C349.9,396.5 350.9,396.5 351.9,396.5 C352.9,396.5 353.9,396.4 354.9,396.4 C355.9,396.3 356.9,396.3 357.9,396.2 C358.9,396.1 359.8,396.1 360.8,396.0 C361.8,395.9 362.8,395.8 363.8,395.7 C364.8,395.6 365.8,395.5 366.7,395.4 C367.7,395.2 368.7,395.1 369.7,395.0 C370.7,394.8 371.7,394.7 372.6,394.5 C373.6,394.4 374.6,394.2 375.6,394.1 C376.6,393.9 377.5,393.7 378.5,393.5 C379.5,393.4 380.5,393.2 381.4,393.0 C382.4,392.8 383.4,392.6 384.4,392.4 C385.3,392.2 386.3,392.0 387.3,391.7 C388.2,391.5 389.2,391.3 390.2,391.1 C391.2,390.9 392.1,390.6 393.1,390.4 C394.1,390.2 395.0,389.9 396.0,389.7 C397.0,389.4 397.9,389.2 398.9,388.9 C399.9,388.7 400.9,388.4 401.8,388.2 C402.8,387.9 403.8,387.7 404.7,387.4 C405.7,387.2 406.7,386.9 407.6,386.6 C408.6,386.4 409.6,386.1 410.5,385.9 C411.5,385.6 412.5,385.3 413.4,385.1 C414.4,384.8 415.4,384.5 416.3,384.3 C417.3,384.0 418.3,383.7 419.2,383.5 C420.2,383.2 421.2,383.0 422.1,382.7 C423.1,382.4 424.1,382.2 425.0,381.9 C426.0,381.6 427.0,381.4 427.9,381.1 C428.9,380.9 429.9,380.6 430.8,380.4 C431.8,380.1 432.8,379.9 433.8,379.6 C434.7,379.4 435.7,379.2 436.7,378.9 C437.6,378.7 438.6,378.4 439.6,378.2 C440.6,378.0 441.5,377.7 442.5,377.5 C443.5,377.3 444.4,377.0 445.4,376.8 C446.4,376.6 447.4,376.4 448.3,376.1 C449.3,375.9 450.3,375.7 451.2,375.5 C452.2,375.2 453.2,375.0 454.2,374.8 C455.1,374.6 456.1,374.3 457.1,374.1 C458.0,373.9 459.0,373.6 460.0,373.4 C460.9,373.2 461.9,372.9 462.9,372.7 C463.8,372.5 464.8,372.2 465.8,372.0 C466.7,371.8 467.7,371.5 468.7,371.3 C469.6,371.0 470.6,370.8 471.5,370.5 C472.5,370.3 473.5,370.0 474.4,369.7 C475.4,369.5 476.3,369.2 477.3,368.9 C478.2,368.7 479.2,368.4 480.1,368.1 C481.1,367.8 482.0,367.5 483.0,367.3 C483.9,367.0 484.8,366.7 485.8,366.4 C486.7,366.1 487.7,365.7 488.6,365.4 C489.5,365.1 490.5,364.8 491.4,364.5 C492.3,364.1 493.3,363.8 494.2,363.4 C495.1,363.1 496.0,362.7 497.0,362.4 C497.9,362.0 498.8,361.6 499.7,361.3 C500.6,360.9 501.6,360.5 502.5,360.1 C503.4,359.7 504.3,359.3 505.2,358.9 C506.1,358.5 507.0,358.1 507.9,357.7 C508.8,357.3 509.7,356.9 510.6,356.4 C511.5,356.0 512.4,355.6 513.3,355.1 C514.2,354.7 515.1,354.2 516.0,353.8 C516.8,353.3 517.7,352.8 518.6,352.3 C519.5,351.9 520.4,351.4 521.2,350.9 C522.1,350.4 523.0,349.9 523.8,349.4 C524.7,348.9 525.6,348.4 526.4,347.9 C527.3,347.3 528.1,346.8 529.0,346.3 C529.8,345.7 530.7,345.2 531.5,344.6 C532.3,344.1 533.2,343.5 534.0,342.9 C534.8,342.3 535.6,341.7 536.4,341.1 C537.2,340.5 538.0,339.9 538.8,339.3 C539.6,338.7 540.3,338.1 541.1,337.4 C541.9,336.8 542.6,336.1 543.4,335.4 C544.1,334.8 544.8,334.1 545.6,333.4 C546.3,332.7 547.0,332.0 547.7,331.3 C548.4,330.6 549.1,329.9 549.8,329.2 C550.5,328.5 551.1,327.7 551.8,327.0 C552.5,326.2 553.1,325.5 553.8,324.7 C554.4,324.0 555.0,323.2 555.6,322.4 C556.3,321.7 556.9,320.9 557.5,320.1 C558.1,319.3 558.7,318.5 559.2,317.7 C559.8,316.9 560.4,316.0 560.9,315.2 C561.5,314.4 562.0,313.6 562.6,312.7 C563.1,311.9 563.6,311.0 564.2,310.2 C564.7,309.3 565.2,308.5 565.7,307.6 C566.2,306.8 566.6,305.9 567.1,305.0 C567.6,304.1 568.0,303.3 568.5,302.4 C568.9,301.5 569.4,300.6 569.8,299.7 C570.2,298.8 570.6,297.9 571.0,297.0 C571.4,296.1 571.8,295.1 572.2,294.2 C572.6,293.3 572.9,292.4 573.3,291.5 C573.7,290.5 574.0,289.6 574.4,288.7 C574.7,287.7 575.1,286.8 575.4,285.9 C575.7,284.9 576.0,284.0 576.4,283.0 C576.7,282.1 577.0,281.1 577.3,280.2 C577.6,279.2 577.9,278.3 578.2,277.3 C578.5,276.4 578.8,275.4 579.1,274.5 C579.4,273.5 579.7,272.5 580.0,271.6 C580.2,270.6 580.5,269.7 580.8,268.7 C581.1,267.7 581.4,266.8 581.6,265.8 C581.9,264.9 582.2,263.9 582.5,262.9 C582.7,262.0 583.0,261.0 583.3,260.1 C583.5,259.1 583.8,258.1 584.1,257.2 C584.3,256.2 584.6,255.2 584.9,254.3 C585.1,253.3 585.4,252.3 585.6,251.4 C585.9,250.4 586.2,249.5 586.4,248.5 C586.7,247.5 586.9,246.6 587.2,245.6 C587.4,244.6 587.7,243.7 587.9,242.7 C588.2,241.7 588.4,240.8 588.6,239.8 C588.9,238.8 589.1,237.9 589.4,236.9 C589.6,235.9 589.9,235.0 590.1,234.0 C590.3,233.0 590.6,232.1 590.8,231.1 C591.0,230.1 591.3,229.2 591.5,228.2 C591.7,227.2 592.0,226.2 592.2,225.3 C592.4,224.3 592.7,223.3 592.9,222.4 C593.1,221.4 593.4,220.4 593.6,219.5 C593.8,218.5 594.0,217.5 594.3,216.5 C594.5,215.6 594.7,214.6 594.9,213.6 C595.1,212.7 595.4,211.7 595.6,210.7 C595.8,209.8 596.0,208.8 596.3,207.8 C596.5,206.8 596.7,205.9 596.9,204.9 C597.1,203.9 597.3,203.0 597.6,202.0 C597.8,201.0 598.0,200.0 598.2,199.1 C598.4,198.1 598.6,197.1 598.8,196.1 C599.1,195.2 599.3,194.2 599.5,193.2 C599.7,192.3 599.9,191.3 600.1,190.3 C600.3,189.3 600.5,188.4 600.8,187.4 C601.0,186.4 601.2,185.4 601.4,184.5 C601.6,183.5 601.8,182.5 602.0,181.6 C602.2,180.6 602.4,179.6 602.7,178.6 C602.9,177.7 603.1,176.7 603.3,175.7 C603.5,174.7 603.7,173.8 603.9,172.8 C604.1,171.8 604.3,170.8 604.5,169.9 C604.7,168.9 605.0,167.9 605.2,167.0 C605.4,166.0 605.6,165.0 605.8,164.0 C606.0,163.1 606.2,162.1 606.4,161.1 C606.6,160.1 606.8,159.2 607.1,158.2 C607.3,157.2 607.5,156.2 607.7,155.3 C607.9,154.3 608.1,153.3 608.3,152.4 C608.5,151.4 608.7,150.4 609.0,149.4 C609.2,148.5 609.4,147.5 609.6,146.5 C609.8,145.5 610.0,144.6 610.2,143.6 C610.5,142.6 610.7,141.7 610.9,140.7 C611.1,139.7 611.3,138.7 611.5,137.8 C611.8,136.8 612.0,135.8 612.2,134.8 C612.4,133.9 612.6,132.9 612.9,131.9 C613.1,131.0 613.3,130.0 613.5,129.0 C613.7,128.0 614.0,127.1 614.2,126.1 C614.4,125.1 614.6,124.2 614.9,123.2 C615.1,122.2 615.3,121.3 615.5,120.3 C615.8,119.3 616.0,118.3 616.2,117.4 C616.5,116.4 616.7,115.4 616.9,114.5 C617.1,113.5 617.4,112.5 617.6,111.6 C617.8,110.6 618.1,109.6 618.3,108.7 C618.6,107.7 618.8,106.7 619.0,105.7 C619.3,104.8 619.5,103.8 619.8,102.8 C620.0,101.9 620.2,100.9 620.5,99.9 C620.7,99.0 621.0,98.0 621.2,97.0 C621.5,96.1 621.7,95.1 622.0,94.1 C622.2,93.2 622.5,92.2 622.7,91.3 C623.0,90.3 623.2,89.3 623.5,88.4 C623.7,87.4 624.0,86.4 624.3,85.5 C624.5,84.5 624.8,83.6 625.1,82.6 C625.4,81.6 625.6,80.7 625.9,79.7 C626.2,78.8 626.5,77.8 626.8,76.9 C627.0,75.9 627.3,75.0 627.6,74.0 C627.9,73.1 628.2,72.1 628.5,71.2 C628.9,70.2 629.2,69.3 629.5,68.3 C629.8,67.4 630.1,66.5 630.5,65.5 C630.8,64.6 631.1,63.6 631.5,62.7 C631.8,61.8 632.2,60.8 632.5,59.9 C632.9,59.0 633.2,58.1 633.6,57.1 C634.0,56.2 634.3,55.3 634.7,54.4 C635.1,53.4 635.5,52.5 635.9,51.6 C636.3,50.7 636.7,49.8 637.1,48.9 C637.6,48.0 638.0,47.1 638.4,46.2 C638.9,45.3 639.3,44.4 639.7,43.5 C640.2,42.6 640.7,41.7 641.1,40.8 C641.6,39.9 642.1,39.1 642.6,38.2 C643.1,37.3 643.6,36.5 644.2,35.7 C644.7,34.8 645.3,34.0 645.9,33.2 C646.4,32.4 647.0,31.6 647.7,30.8 C648.3,30.1 648.9,29.3 649.6,28.6 C650.3,27.9 651.0,27.1 651.7,26.5 C652.4,25.8 653.2,25.1 653.9,24.5 C654.7,23.9 655.5,23.3 656.3,22.7 C657.1,22.2 658.0,21.6 658.8,21.1 C659.7,20.6 660.5,20.1 661.4,19.7 C662.3,19.2 663.2,18.8 664.1,18.4 C665.0,18.0 666.0,17.7 666.9,17.4 C667.9,17.0 668.8,16.8 669.8,16.5 C670.7,16.2 671.7,15.9 672.6,15.7 C673.6,15.4 674.6,15.2 675.5,14.9 C676.4,14.6 677.8,14.2 678.3,14.1" stroke="#a8589a"/>
<path d="M138.1,232.0 C138.3,232.5 138.8,233.8 139.2,234.7 C139.5,235.6 139.9,236.5 140.3,237.5 C140.6,238.4 141.0,239.3 141.3,240.2 C141.7,241.1 142.1,242.0 142.4,243.0 C142.8,243.9 143.1,244.8 143.5,245.7 C143.9,246.6 144.2,247.6 144.6,248.5 C145.0,249.4 145.3,250.4 145.7,251.3 C146.1,252.2 146.4,253.2 146.8,254.1 C147.2,255.0 147.6,255.9 148.0,256.9 C148.3,257.8 148.7,258.7 149.1,259.7 C149.5,260.6 149.9,261.5 150.3,262.5 C150.7,263.4 151.1,264.3 151.5,265.2 C151.9,266.2 152.3,267.1 152.7,268.0 C153.1,268.9 153.5,269.8 153.9,270.8 C154.3,271.7 154.8,272.6 155.2,273.5 C155.6,274.4 156.1,275.3 156.5,276.2 C157.0,277.1 157.4,278.0 157.9,278.9 C158.3,279.8 158.8,280.7 159.2,281.6 C159.7,282.4 160.2,283.3 160.7,284.2 C161.2,285.1 161.7,285.9 162.2,286.8 C162.7,287.7 163.2,288.5 163.7,289.4 C164.2,290.2 164.7,291.1 165.3,291.9 C165.8,292.7 166.3,293.6 166.9,294.4 C167.4,295.2 168.0,296.0 168.6,296.8 C169.1,297.6 169.7,298.4 170.3,299.2 C170.9,300.0 171.5,300.8 172.1,301.6 C172.7,302.3 173.4,303.1 174.0,303.9 C174.6,304.6 175.3,305.4 175.9,306.1 C176.6,306.8 177.2,307.6 177.9,308.3 C178.6,309.0 179.3,309.7 180.0,310.4 C180.7,311.1 181.4,311.8 182.2,312.4 C182.9,313.1 183.6,313.8 184.4,314.4 C185.1,315.1 185.9,315.7 186.6,316.4 C187.4,317.0 188.1,317.7 188.9,318.3 C189.7,318.9 190.5,319.5 191.3,320.2 C192.1,320.8 192.9,321.4 193.7,322.0 C194.5,322.6 195.3,323.2 196.1,323.8 C196.9,324.4 197.7,325.0 198.6,325.5 C199.4,326.1 200.2,326.7 201.0,327.3 C201.9,327.8 202.7,328.4 203.5,329.0 C204.4,329.5 205.2,330.1 206.0,330.7 C206.9,331.2 207.7,331.8 208.6,332.4 C209.4,332.9 210.2,333.5 211.1,334.0 C211.9,334.6 212.7,335.1 213.6,335.7 C214.4,336.2 215.2,336.8 216.1,337.4 C216.9,337.9 217.7,338.5 218.6,339.0 C219.4,339.6 220.2,340.2 221.0,340.8 C221.8,341.3 222.6,341.9 223.4,342.5 C224.2,343.1 225.0,343.7 225.8,344.3 C226.6,344.9 227.3,345.5 228.1,346.1 C228.9,346.7 229.6,347.3 230.4,348.0 C231.1,348.6 231.8,349.2 232.6,349.9 C233.3,350.6 234.0,351.2 234.7,351.9 C235.4,352.6 236.0,353.3 236.7,354.0 C237.4,354.7 238.0,355.4 238.7,356.1 C239.3,356.9 240.0,357.6 240.6,358.4 C241.2,359.1 241.9,359.9 242.5,360.6 C243.1,361.4 243.7,362.2 244.3,362.9 C245.0,363.7 245.6,364.5 246.2,365.3 C246.8,366.0 247.4,366.8 248.0,367.6 C248.7,368.4 249.3,369.2 249.9,370.0 C250.5,370.7 251.2,371.5 251.8,372.3 C252.4,373.1 253.1,373.9 253.7,374.7 C254.3,375.4 255.0,376.2 255.6,377.0 C256.3,377.8 256.9,378.6 257.6,379.4 C258.2,380.1 258.9,380.9 259.5,381.7 C260.2,382.5 260.8,383.2 261.5,384.0 C262.2,384.8 262.8,385.5 263.5,386.3 C264.2,387.1 264.9,387.8 265.5,388.6 C266.2,389.4 266.9,390.1 267.6,390.9 C268.3,391.6 269.0,392.4 269.7,393.1 C270.4,393.8 271.1,394.6 271.8,395.3 C272.5,396.0 273.2,396.8 273.9,397.5 C274.6,398.2 275.3,398.9 276.0,399.6 C276.8,400.3 277.5,401.0 278.2,401.7 C278.9,402.4 279.7,403.1 280.4,403.8 C281.2,404.4 281.9,405.1 282.7,405.8 C283.4,406.4 284.2,407.1 284.9,407.7 C285.7,408.4 286.4,409.0 287.2,409.6 C288.0,410.2 288.8,410.9 289.5,411.5 C290.3,412.1 291.1,412.7 291.9,413.2 C292.7,413.8 293.5,414.4 294.3,415.0 C295.1,415.5 295.9,416.1 296.7,416.6 C297.5,417.2 298.4,417.7 299.2,418.2 C300.0,418.7 300.8,419.2 301.7,419.7 C302.5,420.2 303.4,420.7 304.2,421.2 C305.1,421.6 305.9,422.1 306.8,422.5 C307.6,423.0 308.5,423.4 309.4,423.8 C310.3,424.2 311.1,424.6 312.0,425.0 C312.9,425.4 313.8,425.7 314.7,426.1 C315.6,426.4 316.5,426.8 317.4,427.1 C318.4,427.4 319.3,427.7 320.2,428.0 C321.1,428.3 322.1,428.6 323.0,428.8 C324.0,429.1 324.9,429.3 325.9,429.5 C326.8,429.7 327.8,429.9 328.8,430.1 C329.7,430.3 330.7,430.5 331.7,430.7 C332.6,430.8 333.6,431.0 334.6,431.1 C335.6,431.2 336.6,431.4 337.6,431.5 C338.6,431.6 339.6,431.7 340.6,431.7 C341.6,431.8 342.6,431.9 343.6,432.0 C344.6,432.0 345.6,432.1 346.7,432.1 C347.7,432.1 348.7,432.1 349.7,432.2 C350.7,432.2 351.8,432.2 352.8,432.2 C353.8,432.2 354.8,432.1 355.9,432.1 C356.9,432.1 357.9,432.1 358.9,432.0 C360.0,432.0 361.0,431.9 362.0,431.9 C363.1,431.8 364.1,431.7 365.1,431.7 C366.2,431.6 367.2,431.5 368.2,431.4 C369.2,431.3 370.3,431.2 371.3,431.1 C372.3,431.0 373.3,430.9 374.4,430.8 C375.4,430.7 376.4,430.6 377.4,430.5 C378.4,430.3 379.4,430.2 380.5,430.1 C381.5,430.0 382.5,429.8 383.5,429.7 C384.5,429.5 385.5,429.4 386.5,429.3 C387.5,429.1 388.5,429.0 389.5,428.8 C390.5,428.7 391.4,428.5 392.4,428.4 C393.4,428.2 394.4,428.1 395.4,427.9 C396.4,427.8 397.3,427.6 398.3,427.5 C399.3,427.3 400.2,427.1 401.2,427.0 C402.2,426.8 403.1,426.6 404.1,426.5 C405.1,426.3 406.0,426.2 407.0,426.0 C408.0,425.8 408.9,425.7 409.9,425.5 C410.9,425.3 411.8,425.2 412.8,425.0 C413.7,424.8 414.7,424.6 415.6,424.5 C416.6,424.3 417.6,424.1 418.5,424.0 C419.5,423.8 420.4,423.6 421.4,423.5 C422.4,423.3 423.3,423.1 424.3,423.0 C425.3,422.8 426.2,422.6 427.2,422.5 C428.1,422.3 429.1,422.2 430.1,422.0 C431.0,421.8 432.0,421.7 433.0,421.5 C434.0,421.4 434.9,421.2 435.9,421.0 C436.9,420.9 437.9,420.7 438.8,420.6 C439.8,420.4 440.8,420.3 441.8,420.1 C442.8,420.0 443.8,419.8 444.7,419.7 C445.7,419.5 446.7,419.4 447.7,419.2 C448.7,419.1 449.7,418.9 450.7,418.7 C451.7,418.6 452.7,418.4 453.6,418.3 C454.6,418.1 455.6,418.0 456.6,417.8 C457.6,417.6 458.6,417.5 459.6,417.3 C460.6,417.2 461.6,417.0 462.6,416.8 C463.6,416.7 464.6,416.5 465.5,416.3 C466.5,416.1 467.5,416.0 468.5,415.8 C469.5,415.6 470.5,415.4 471.5,415.2 C472.5,415.0 473.5,414.9 474.4,414.7 C475.4,414.5 476.4,414.3 477.4,414.1 C478.4,413.8 479.4,413.6 480.3,413.4 C481.3,413.2 482.3,413.0 483.3,412.8 C484.2,412.5 485.2,412.3 486.2,412.1 C487.2,411.8 488.1,411.6 489.1,411.3 C490.1,411.1 491.0,410.8 492.0,410.6 C492.9,410.3 493.9,410.0 494.9,409.8 C495.8,409.5 496.8,409.2 497.7,408.9 C498.7,408.6 499.6,408.3 500.6,408.0 C501.5,407.7 502.5,407.4 503.4,407.1 C504.4,406.8 505.3,406.5 506.2,406.2 C507.2,405.9 508.1,405.5 509.1,405.2 C510.0,404.9 510.9,404.5 511.9,404.2 C512.8,403.8 513.7,403.5 514.7,403.1 C515.6,402.8 516.5,402.4 517.5,402.1 C518.4,401.7 519.3,401.3 520.2,401.0 C521.2,400.6 522.1,400.2 523.0,399.8 C524.0,399.5 524.9,399.1 525.8,398.7 C526.7,398.3 527.6,397.9 528.6,397.5 C529.5,397.1 530.4,396.7 531.3,396.3 C532.2,395.8 533.1,395.4 534.0,395.0 C534.9,394.5 535.8,394.1 536.7,393.6 C537.5,393.1 538.4,392.7 539.3,392.2 C540.1,391.7 541.0,391.1 541.8,390.6 C542.6,390.1 543.4,389.5 544.2,388.9 C545.0,388.4 545.8,387.8 546.5,387.1 C547.3,386.5 548.0,385.9 548.8,385.3 C549.5,384.6 550.2,383.9 550.9,383.3 C551.7,382.6 552.3,381.9 553.0,381.2 C553.7,380.5 554.4,379.7 555.0,379.0 C555.7,378.3 556.3,377.5 556.9,376.8 C557.6,376.0 558.2,375.2 558.8,374.4 C559.4,373.6 560.0,372.8 560.6,372.0 C561.1,371.2 561.7,370.4 562.3,369.6 C562.8,368.7 563.4,367.9 563.9,367.0 C564.5,366.2 565.0,365.3 565.5,364.5 C566.0,363.6 566.5,362.7 567.0,361.9 C567.5,361.0 568.0,360.1 568.5,359.2 C568.9,358.4 569.4,357.5 569.8,356.6 C570.3,355.7 570.7,354.8 571.2,353.9 C571.6,353.0 572.0,352.1 572.5,351.2 C572.9,350.3 573.3,349.4 573.7,348.5 C574.1,347.6 574.5,346.7 574.9,345.8 C575.3,344.8 575.6,343.9 576.0,343.0 C576.4,342.1 576.7,341.2 577.1,340.2 C577.4,339.3 577.8,338.4 578.1,337.4 C578.5,336.5 578.8,335.6 579.1,334.6 C579.4,333.7 579.8,332.8 580.1,331.8 C580.4,330.9 580.7,329.9 581.0,329.0 C581.3,328.0 581.6,327.1 581.9,326.1 C582.2,325.2 582.5,324.2 582.8,323.3 C583.0,322.3 583.3,321.4 583.6,320.4 C583.9,319.5 584.1,318.5 584.4,317.5 C584.6,316.6 584.9,315.6 585.2,314.7 C585.4,313.7 585.7,312.7 585.9,311.8 C586.1,310.8 586.4,309.8 586.6,308.9 C586.9,307.9 587.1,306.9 587.3,306.0 C587.6,305.0 587.8,304.0 588.0,303.1 C588.3,302.1 588.5,301.1 588.7,300.2 C588.9,299.2 589.2,298.2 589.4,297.2 C589.6,296.3 589.8,295.3 590.0,294.3 C590.3,293.4 590.5,292.4 590.7,291.4 C590.9,290.4 591.1,289.5 591.3,288.5 C591.5,287.5 591.7,286.5 591.9,285.6 C592.2,284.6 592.4,283.6 592.6,282.6 C592.8,281.7 593.0,280.7 593.2,279.7 C593.4,278.7 593.6,277.8 593.8,276.8 C594.0,275.8 594.2,274.8 594.3,273.9 C594.5,272.9 594.7,271.9 594.9,270.9 C595.1,269.9 595.3,269.0 595.5,268.0 C595.7,267.0 595.9,266.0 596.1,265.1 C596.2,264.1 596.4,263.1 596.6,262.1 C596.8,261.1 597.0,260.2 597.1,259.2 C597.3,258.2 597.5,257.2 597.7,256.2 C597.9,255.3 598.0,254.3 598.2,253.3 C598.4,252.3 598.6,251.3 598.7,250.4 C598.9,249.4 599.1,248.4 599.3,247.4 C599.4,246.4 599.6,245.5 599.8,244.5 C599.9,243.5 600.1,242.5 600.3,241.5 C600.4,240.5 600.6,239.6 600.8,238.6 C600.9,237.6 601.1,236.6 601.3,235.6 C601.4,234.6 601.6,233.7 601.8,232.7 C601.9,231.7 602.1,230.7 602.2,229.7 C602.4,228.7 602.6,227.8 602.7,226.8 C602.9,225.8 603.1,224.8 603.2,223.8 C603.4,222.8 603.5,221.9 603.7,220.9 C603.8,219.9 604.0,218.9 604.2,217.9 C604.3,216.9 604.5,216.0 604.6,215.0 C604.8,214.0 604.9,213.0 605.1,212.0 C605.3,211.0 605.4,210.0 605.6,209.1 C605.7,208.1 605.9,207.1 606.0,206.1 C606.2,205.1 606.3,204.1 606.5,203.2 C606.7,202.2 606.8,201.2 607.0,200.2 C607.1,199.2 607.3,198.2 607.4,197.2 C607.6,196.3 607.7,195.3 607.9,194.3 C608.0,193.3 608.2,192.3 608.3,191.3 C608.5,190.3 608.7,189.4 608.8,188.4 C609.0,187.4 609.1,186.4 609.3,185.4 C609.4,184.4 609.6,183.4 609.7,182.5 C609.9,181.5 610.0,180.5 610.2,179.5 C610.4,178.5 610.5,177.5 610.7,176.5 C610.8,175.6 611.0,174.6 611.1,173.6 C611.3,172.6 611.4,171.6 611.6,170.6 C611.8,169.7 611.9,168.7 612.1,167.7 C612.2,166.7 612.4,165.7 612.6,164.7 C612.7,163.7 612.9,162.8 613.0,161.8 C613.2,160.8 613.4,159.8 613.5,158.8 C613.7,157.8 613.8,156.9 614.0,155.9 C614.2,154.9 614.3,153.9 614.5,152.9 C614.7,151.9 614.8,151.0 615.0,150.0 C615.2,149.0 615.3,148.0 615.5,147.0 C615.7,146.0 615.8,145.1 616.0,144.1 C616.2,143.1 616.3,142.1 616.5,141.1 C616.7,140.1 616.9,139.2 617.0,138.2 C617.2,137.2 617.4,136.2 617.6,135.2 C617.7,134.3 617.9,133.3 618.1,132.3 C618.3,131.3 618.4,130.3 618.6,129.3 C618.8,128.4 619.0,127.4 619.2,126.4 C619.4,125.4 619.5,124.4 619.7,123.5 C619.9,122.5 620.1,121.5 620.3,120.5 C620.5,119.5 620.7,118.6 620.9,117.6 C621.0,116.6 621.2,115.6 621.4,114.6 C621.6,113.7 621.8,112.7 622.0,111.7 C622.2,110.7 622.4,109.8 622.6,108.8 C622.8,107.8 623.0,106.8 623.2,105.9 C623.4,104.9 623.7,103.9 623.9,102.9 C624.1,102.0 624.3,101.0 624.5,100.0 C624.7,99.0 624.9,98.1 625.2,97.1 C625.4,96.1 625.6,95.2 625.8,94.2 C626.1,93.2 626.3,92.2 626.5,91.3 C626.8,90.3 627.0,89.3 627.3,88.4 C627.5,87.4 627.8,86.4 628.0,85.5 C628.3,84.5 628.5,83.6 628.8,82.6 C629.0,81.6 629.3,80.7 629.6,79.7 C629.8,78.8 630.1,77.8 630.4,76.8 C630.7,75.9 631.0,74.9 631.2,74.0 C631.5,73.0 631.8,72.1 632.1,71.1 C632.4,70.2 632.7,69.2 633.0,68.3 C633.3,67.3 633.6,66.4 634.0,65.4 C634.3,64.5 634.6,63.5 634.9,62.6 C635.3,61.7 635.6,60.7 635.9,59.8 C636.3,58.8 636.6,57.9 637.0,57.0 C637.4,56.0 637.7,55.1 638.1,54.2 C638.4,53.2 638.8,52.3 639.2,51.4 C639.6,50.5 640.0,49.5 640.4,48.6 C640.8,47.7 641.2,46.8 641.6,45.9 C642.0,45.0 642.4,44.1 642.9,43.2 C643.3,42.3 643.8,41.4 644.2,40.5 C644.7,39.6 645.2,38.8 645.7,37.9 C646.2,37.1 646.7,36.2 647.3,35.4 C647.8,34.6 648.4,33.8 649.0,33.0 C649.6,32.2 650.2,31.4 650.9,30.7 C651.5,29.9 652.2,29.2 652.8,28.5 C653.5,27.7 654.2,27.0 654.9,26.4 C655.7,25.7 656.4,25.1 657.2,24.4 C657.9,23.8 658.7,23.2 659.5,22.6 C660.3,22.0 661.2,21.5 662.0,21.0 C662.8,20.4 663.7,19.9 664.6,19.5 C665.4,19.0 666.3,18.6 667.2,18.1 C668.1,17.7 669.1,17.3 670.0,17.0 C670.9,16.6 671.9,16.3 672.8,16.0 C673.8,15.7 674.7,15.4 675.7,15.1 C676.7,14.9 678.1,14.6 678.6,14.5" stroke="#1a7045"/>
<path d="M135.9,324.2 C136.1,324.6 136.9,325.9 137.3,326.7 C137.7,327.6 138.2,328.5 138.6,329.4 C139.0,330.3 139.3,331.2 139.7,332.1 C140.1,333.0 140.4,333.9 140.8,334.9 C141.1,335.8 141.4,336.8 141.7,337.7 C142.0,338.7 142.4,339.7 142.7,340.6 C143.0,341.6 143.3,342.6 143.6,343.6 C143.9,344.5 144.2,345.5 144.5,346.5 C144.8,347.5 145.1,348.5 145.4,349.4 C145.7,350.4 146.1,351.4 146.4,352.4 C146.7,353.3 147.1,354.3 147.4,355.2 C147.8,356.2 148.2,357.1 148.6,358.1 C149.0,359.0 149.4,359.9 149.9,360.8 C150.3,361.7 150.8,362.6 151.3,363.5 C151.8,364.4 152.3,365.3 152.8,366.1 C153.4,367.0 153.9,367.8 154.5,368.6 C155.1,369.4 155.7,370.2 156.3,371.0 C156.9,371.7 157.6,372.5 158.2,373.2 C158.9,373.9 159.6,374.6 160.3,375.2 C161.0,375.9 161.7,376.5 162.5,377.1 C163.2,377.7 164.0,378.3 164.8,378.8 C165.6,379.3 166.4,379.8 167.2,380.3 C168.1,380.8 168.9,381.2 169.8,381.6 C170.6,382.0 171.5,382.3 172.4,382.6 C173.3,382.9 174.3,383.2 175.2,383.4 C176.1,383.6 177.1,383.8 178.1,384.0 C179.0,384.2 180.0,384.3 181.0,384.4 C182.0,384.6 183.0,384.6 184.0,384.7 C185.0,384.8 186.0,384.9 187.1,384.9 C188.1,385.0 189.1,385.0 190.1,385.1 C191.2,385.1 192.2,385.2 193.2,385.2 C194.3,385.3 195.3,385.3 196.3,385.4 C197.4,385.4 198.4,385.5 199.4,385.6 C200.5,385.7 201.5,385.8 202.5,385.9 C203.5,386.0 204.5,386.2 205.5,386.3 C206.5,386.5 207.5,386.7 208.5,386.9 C209.4,387.1 210.4,387.4 211.4,387.6 C212.3,387.9 213.3,388.2 214.2,388.5 C215.2,388.8 216.1,389.1 217.1,389.4 C218.0,389.7 218.9,390.1 219.9,390.4 C220.8,390.8 221.7,391.2 222.6,391.5 C223.6,391.9 224.5,392.3 225.4,392.7 C226.3,393.1 227.2,393.5 228.1,393.9 C229.0,394.3 230.0,394.7 230.9,395.2 C231.8,395.6 232.7,396.0 233.6,396.4 C234.5,396.8 235.4,397.2 236.3,397.7 C237.2,398.1 238.1,398.5 239.1,398.9 C240.0,399.3 240.9,399.7 241.8,400.1 C242.7,400.5 243.6,400.9 244.6,401.3 C245.5,401.7 246.4,402.1 247.3,402.5 C248.3,402.8 249.2,403.2 250.1,403.6 C251.0,404.0 252.0,404.3 252.9,404.7 C253.9,405.0 254.8,405.4 255.7,405.7 C256.7,406.1 257.6,406.4 258.5,406.7 C259.5,407.1 260.4,407.4 261.4,407.7 C262.3,408.1 263.3,408.4 264.2,408.7 C265.2,409.0 266.1,409.3 267.1,409.6 C268.0,409.9 269.0,410.2 269.9,410.5 C270.9,410.8 271.9,411.0 272.8,411.3 C273.8,411.6 274.7,411.9 275.7,412.1 C276.7,412.4 277.6,412.6 278.6,412.9 C279.6,413.2 280.5,413.4 281.5,413.6 C282.5,413.9 283.4,414.1 284.4,414.3 C285.4,414.6 286.3,414.8 287.3,415.0 C288.3,415.2 289.3,415.4 290.2,415.6 C291.2,415.8 292.2,416.0 293.2,416.2 C294.2,416.4 295.1,416.5 296.1,416.7 C297.1,416.9 298.1,417.1 299.1,417.2 C300.0,417.4 301.0,417.5 302.0,417.7 C303.0,417.8 304.0,417.9 305.0,418.1 C306.0,418.2 306.9,418.3 307.9,418.5 C308.9,418.6 309.9,418.7 310.9,418.8 C311.9,418.9 312.9,419.0 313.9,419.1 C314.9,419.2 315.9,419.2 316.9,419.3 C317.8,419.4 318.8,419.5 319.8,419.5 C320.8,419.6 321.8,419.6 322.8,419.7 C323.8,419.7 324.8,419.7 325.8,419.8 C326.8,419.8 327.8,419.8 328.8,419.8 C329.8,419.9 330.8,419.9 331.8,419.9 C332.8,419.9 333.8,419.8 334.8,419.8 C335.8,419.8 336.8,419.8 337.8,419.8 C338.8,419.7 339.8,419.7 340.8,419.6 C341.8,419.6 342.8,419.5 343.8,419.5 C344.8,419.4 345.8,419.3 346.8,419.3 C347.8,419.2 348.8,419.1 349.8,419.0 C350.8,418.9 351.7,418.8 352.7,418.7 C353.7,418.6 354.7,418.5 355.7,418.4 C356.7,418.2 357.7,418.1 358.7,418.0 C359.7,417.8 360.7,417.7 361.7,417.6 C362.7,417.4 363.7,417.3 364.7,417.1 C365.7,416.9 366.7,416.8 367.7,416.6 C368.7,416.4 369.7,416.2 370.6,416.1 C371.6,415.9 372.6,415.7 373.6,415.5 C374.6,415.3 375.6,415.1 376.6,414.9 C377.5,414.7 378.5,414.4 379.5,414.2 C380.5,414.0 381.5,413.8 382.4,413.5 C383.4,413.3 384.4,413.1 385.4,412.8 C386.4,412.6 387.3,412.3 388.3,412.1 C389.3,411.8 390.2,411.6 391.2,411.3 C392.2,411.1 393.1,410.8 394.1,410.5 C395.1,410.2 396.0,410.0 397.0,409.7 C398.0,409.4 398.9,409.1 399.9,408.8 C400.8,408.5 401.8,408.2 402.7,407.9 C403.7,407.6 404.6,407.3 405.6,407.0 C406.5,406.7 407.5,406.4 408.4,406.1 C409.4,405.8 410.3,405.4 411.3,405.1 C412.2,404.8 413.2,404.5 414.1,404.2 C415.0,403.8 416.0,403.5 416.9,403.2 C417.9,402.8 418.8,402.5 419.7,402.2 C420.7,401.8 421.6,401.5 422.6,401.1 C423.5,400.8 424.4,400.5 425.4,400.1 C426.3,399.8 427.2,399.4 428.2,399.1 C429.1,398.7 430.0,398.4 431.0,398.0 C431.9,397.7 432.8,397.3 433.8,397.0 C434.7,396.6 435.6,396.3 436.5,395.9 C437.5,395.6 438.4,395.2 439.3,394.9 C440.3,394.5 441.2,394.2 442.1,393.8 C443.1,393.5 444.0,393.2 444.9,392.8 C445.9,392.5 446.8,392.1 447.7,391.8 C448.7,391.4 449.6,391.1 450.5,390.7 C451.5,390.4 452.4,390.0 453.3,389.7 C454.3,389.4 455.2,389.0 456.1,388.7 C457.1,388.4 458.0,388.0 459.0,387.7 C459.9,387.4 460.8,387.0 461.8,386.7 C462.7,386.4 463.7,386.0 464.6,385.7 C465.5,385.4 466.5,385.1 467.4,384.7 C468.4,384.4 469.3,384.1 470.2,383.7 C471.2,383.4 472.1,383.1 473.1,382.7 C474.0,382.4 474.9,382.1 475.9,381.7 C476.8,381.4 477.8,381.1 478.7,380.7 C479.6,380.4 480.6,380.0 481.5,379.7 C482.4,379.4 483.4,379.0 484.3,378.7 C485.2,378.3 486.2,377.9 487.1,377.6 C488.0,377.2 489.0,376.9 489.9,376.5 C490.8,376.1 491.7,375.7 492.7,375.4 C493.6,375.0 494.5,374.6 495.4,374.2 C496.3,373.8 497.3,373.4 498.2,373.0 C499.1,372.6 500.0,372.2 500.9,371.8 C501.8,371.4 502.7,370.9 503.6,370.5 C504.5,370.1 505.4,369.6 506.3,369.2 C507.2,368.7 508.1,368.3 509.0,367.8 C509.9,367.3 510.8,366.8 511.7,366.4 C512.5,365.9 513.4,365.4 514.3,364.9 C515.2,364.4 516.0,363.9 516.9,363.4 C517.8,362.8 518.6,362.3 519.5,361.8 C520.4,361.2 521.2,360.7 522.1,360.1 C522.9,359.6 523.7,359.0 524.6,358.5 C525.4,357.9 526.3,357.3 527.1,356.7 C527.9,356.2 528.7,355.6 529.5,355.0 C530.3,354.4 531.2,353.8 532.0,353.1 C532.8,352.5 533.5,351.9 534.3,351.3 C535.1,350.6 535.9,350.0 536.7,349.4 C537.4,348.7 538.2,348.1 539.0,347.4 C539.7,346.7 540.5,346.1 541.2,345.4 C542.0,344.7 542.7,344.0 543.4,343.3 C544.1,342.7 544.9,342.0 545.6,341.2 C546.3,340.5 547.0,339.8 547.7,339.1 C548.3,338.4 549.0,337.7 549.7,336.9 C550.4,336.2 551.0,335.4 551.7,334.7 C552.3,334.0 553.0,333.2 553.6,332.4 C554.2,331.7 554.9,330.9 555.5,330.1 C556.1,329.3 556.7,328.6 557.3,327.8 C557.9,327.0 558.4,326.2 559.0,325.4 C559.6,324.6 560.1,323.8 560.7,323.0 C561.2,322.1 561.8,321.3 562.3,320.5 C562.8,319.7 563.4,318.8 563.9,318.0 C564.4,317.1 564.9,316.3 565.4,315.4 C565.9,314.6 566.4,313.7 566.8,312.9 C567.3,312.0 567.8,311.1 568.2,310.3 C568.7,309.4 569.1,308.5 569.6,307.6 C570.0,306.8 570.5,305.9 570.9,305.0 C571.3,304.1 571.7,303.2 572.1,302.3 C572.6,301.4 573.0,300.5 573.4,299.6 C573.8,298.7 574.1,297.7 574.5,296.8 C574.9,295.9 575.3,295.0 575.6,294.1 C576.0,293.1 576.4,292.2 576.7,291.3 C577.1,290.3 577.4,289.4 577.8,288.5 C578.1,287.5 578.5,286.6 578.8,285.6 C579.1,284.7 579.4,283.7 579.8,282.8 C580.1,281.8 580.4,280.9 580.7,279.9 C581.0,279.0 581.3,278.0 581.6,277.0 C581.9,276.1 582.2,275.1 582.5,274.1 C582.8,273.2 583.1,272.2 583.3,271.2 C583.6,270.3 583.9,269.3 584.2,268.3 C584.4,267.3 584.7,266.3 585.0,265.4 C585.2,264.4 585.5,263.4 585.7,262.4 C586.0,261.4 586.2,260.5 586.5,259.5 C586.7,258.5 587.0,257.5 587.2,256.5 C587.5,255.5 587.7,254.5 587.9,253.6 C588.2,252.6 588.4,251.6 588.6,250.6 C588.9,249.6 589.1,248.6 589.3,247.6 C589.6,246.6 589.8,245.6 590.0,244.7 C590.2,243.7 590.5,242.7 590.7,241.7 C590.9,240.7 591.1,239.7 591.3,238.7 C591.5,237.7 591.8,236.7 592.0,235.8 C592.2,234.8 592.4,233.8 592.6,232.8 C592.8,231.8 593.0,230.8 593.2,229.8 C593.4,228.9 593.7,227.9 593.9,226.9 C594.1,225.9 594.3,224.9 594.5,223.9 C594.7,223.0 594.9,222.0 595.1,221.0 C595.3,220.0 595.5,219.0 595.7,218.1 C595.9,217.1 596.1,216.1 596.3,215.1 C596.5,214.1 596.7,213.2 596.9,212.2 C597.1,211.2 597.3,210.2 597.6,209.2 C597.8,208.3 598.0,207.3 598.2,206.3 C598.4,205.3 598.6,204.4 598.8,203.4 C599.0,202.4 599.2,201.4 599.4,200.5 C599.6,199.5 599.8,198.5 600.0,197.5 C600.2,196.6 600.4,195.6 600.6,194.6 C600.8,193.7 601.0,192.7 601.2,191.7 C601.3,190.7 601.5,189.8 601.7,188.8 C601.9,187.8 602.1,186.8 602.3,185.9 C602.5,184.9 602.7,183.9 602.9,183.0 C603.1,182.0 603.3,181.0 603.5,180.0 C603.7,179.1 603.9,178.1 604.1,177.1 C604.3,176.2 604.5,175.2 604.7,174.2 C604.9,173.2 605.1,172.3 605.3,171.3 C605.5,170.3 605.7,169.4 606.0,168.4 C606.2,167.4 606.4,166.4 606.6,165.5 C606.8,164.5 607.0,163.5 607.2,162.6 C607.4,161.6 607.6,160.6 607.8,159.6 C608.0,158.7 608.2,157.7 608.4,156.7 C608.6,155.8 608.8,154.8 609.0,153.8 C609.2,152.8 609.4,151.9 609.7,150.9 C609.9,149.9 610.1,148.9 610.3,148.0 C610.5,147.0 610.7,146.0 610.9,145.0 C611.1,144.1 611.4,143.1 611.6,142.1 C611.8,141.1 612.0,140.2 612.2,139.2 C612.4,138.2 612.7,137.2 612.9,136.3 C613.1,135.3 613.3,134.3 613.5,133.3 C613.8,132.3 614.0,131.4 614.2,130.4 C614.4,129.4 614.7,128.4 614.9,127.5 C615.1,126.5 615.3,125.5 615.6,124.5 C615.8,123.6 616.0,122.6 616.2,121.6 C616.5,120.6 616.7,119.6 616.9,118.7 C617.2,117.7 617.4,116.7 617.6,115.7 C617.9,114.8 618.1,113.8 618.3,112.8 C618.6,111.8 618.8,110.9 619.0,109.9 C619.3,108.9 619.5,107.9 619.7,107.0 C620.0,106.0 620.2,105.0 620.4,104.0 C620.7,103.1 620.9,102.1 621.2,101.1 C621.4,100.1 621.7,99.2 621.9,98.2 C622.1,97.2 622.4,96.3 622.6,95.3 C622.9,94.3 623.1,93.4 623.4,92.4 C623.6,91.4 623.9,90.5 624.2,89.5 C624.4,88.5 624.7,87.6 624.9,86.6 C625.2,85.6 625.5,84.7 625.7,83.7 C626.0,82.8 626.3,81.8 626.6,80.8 C626.8,79.9 627.1,78.9 627.4,78.0 C627.7,77.0 628.0,76.1 628.3,75.1 C628.6,74.2 628.9,73.2 629.2,72.3 C629.5,71.3 629.8,70.4 630.1,69.4 C630.4,68.5 630.8,67.5 631.1,66.6 C631.4,65.7 631.7,64.7 632.1,63.8 C632.4,62.8 632.8,61.9 633.1,61.0 C633.5,60.0 633.8,59.1 634.2,58.2 C634.6,57.2 634.9,56.3 635.3,55.4 C635.7,54.5 636.1,53.5 636.5,52.6 C636.9,51.7 637.3,50.8 637.7,49.9 C638.1,48.9 638.5,48.0 638.9,47.1 C639.4,46.2 639.8,45.3 640.2,44.4 C640.7,43.5 641.1,42.6 641.6,41.7 C642.1,40.8 642.5,39.9 643.0,39.1 C643.5,38.2 644.1,37.3 644.6,36.5 C645.1,35.6 645.7,34.8 646.2,34.0 C646.8,33.2 647.4,32.4 648.0,31.6 C648.6,30.8 649.3,30.0 649.9,29.3 C650.6,28.6 651.3,27.9 652.0,27.2 C652.7,26.5 653.4,25.8 654.2,25.2 C654.9,24.6 655.7,23.9 656.5,23.4 C657.3,22.8 658.1,22.2 659.0,21.7 C659.8,21.1 660.7,20.6 661.5,20.2 C662.4,19.7 663.3,19.2 664.2,18.8 C665.1,18.4 666.0,18.0 667.0,17.6 C667.9,17.3 668.8,16.9 669.8,16.6 C670.7,16.3 671.7,16.0 672.7,15.7 C673.6,15.4 674.6,15.2 675.6,15.0 C676.5,14.7 678.0,14.4 678.5,14.3" stroke="#2893bb"/>
<path d="M110.0,243.9 C110.5,244.0 111.9,244.4 112.9,244.6 C113.9,244.9 114.8,245.1 115.8,245.3 C116.8,245.6 117.7,245.8 118.7,246.0 C119.7,246.2 120.6,246.4 121.6,246.6 C122.6,246.7 123.6,246.9 124.6,247.1 C125.5,247.2 126.5,247.4 127.5,247.5 C128.5,247.7 129.5,247.8 130.5,248.0 C131.4,248.1 132.4,248.2 133.4,248.3 C134.4,248.5 135.4,248.6 136.4,248.7 C137.4,248.8 138.4,248.9 139.4,249.0 C140.4,249.1 141.4,249.2 142.4,249.3 C143.4,249.4 144.4,249.5 145.4,249.6 C146.4,249.6 147.4,249.7 148.4,249.8 C149.4,249.9 150.4,250.0 151.4,250.1 C152.4,250.1 153.4,250.2 154.4,250.3 C155.4,250.4 156.4,250.4 157.4,250.5 C158.4,250.6 159.4,250.7 160.4,250.8 C161.4,250.8 162.4,250.9 163.4,251.0 C164.4,251.1 165.4,251.2 166.4,251.2 C167.4,251.3 168.4,251.4 169.4,251.5 C170.4,251.6 171.4,251.7 172.4,251.8 C173.4,251.9 174.4,252.0 175.4,252.1 C176.3,252.2 177.3,252.3 178.3,252.5 C179.3,252.6 180.3,252.7 181.3,252.8 C182.3,253.0 183.2,253.1 184.2,253.3 C185.2,253.4 186.2,253.6 187.2,253.7 C188.1,253.9 189.1,254.1 190.1,254.3 C191.0,254.4 192.0,254.6 193.0,254.8 C193.9,255.0 194.9,255.2 195.9,255.5 C196.8,255.7 197.8,255.9 198.7,256.2 C199.7,256.4 200.6,256.7 201.6,256.9 C202.5,257.2 203.5,257.5 204.4,257.8 C205.3,258.1 206.3,258.4 207.2,258.7 C208.1,259.0 209.1,259.3 210.0,259.7 C210.9,260.0 211.9,260.3 212.8,260.7 C213.7,261.1 214.6,261.4 215.5,261.8 C216.5,262.2 217.4,262.5 218.3,262.9 C219.2,263.3 220.1,263.7 221.0,264.1 C221.9,264.5 222.8,264.9 223.7,265.3 C224.7,265.7 225.6,266.1 226.5,266.6 C227.4,267.0 228.3,267.4 229.2,267.8 C230.1,268.3 231.0,268.7 231.9,269.1 C232.8,269.6 233.7,270.0 234.6,270.5 C235.5,270.9 236.4,271.3 237.3,271.8 C238.2,272.2 239.1,272.7 240.0,273.1 C240.9,273.5 241.8,274.0 242.7,274.4 C243.6,274.9 244.5,275.3 245.4,275.7 C246.3,276.2 247.2,276.6 248.1,277.1 C249.0,277.5 249.9,277.9 250.8,278.3 C251.7,278.8 252.6,279.2 253.6,279.6 C254.5,280.0 255.4,280.4 256.3,280.8 C257.2,281.3 258.1,281.7 259.1,282.1 C260.0,282.4 260.9,282.8 261.8,283.2 C262.7,283.6 263.7,284.0 264.6,284.3 C265.5,284.7 266.5,285.1 267.4,285.4 C268.3,285.8 269.3,286.1 270.2,286.5 C271.1,286.8 272.1,287.1 273.0,287.5 C274.0,287.8 274.9,288.1 275.8,288.4 C276.8,288.7 277.7,289.1 278.7,289.4 C279.6,289.7 280.6,290.0 281.5,290.2 C282.5,290.5 283.4,290.8 284.4,291.1 C285.4,291.4 286.3,291.6 287.3,291.9 C288.2,292.1 289.2,292.4 290.2,292.6 C291.1,292.9 292.1,293.1 293.1,293.4 C294.0,293.6 295.0,293.8 296.0,294.0 C296.9,294.3 297.9,294.5 298.9,294.7 C299.8,294.9 300.8,295.1 301.8,295.3 C302.8,295.5 303.7,295.7 304.7,295.8 C305.7,296.0 306.7,296.2 307.6,296.4 C308.6,296.5 309.6,296.7 310.6,296.8 C311.6,297.0 312.5,297.1 313.5,297.3 C314.5,297.4 315.5,297.6 316.5,297.7 C317.5,297.8 318.5,297.9 319.4,298.0 C320.4,298.2 321.4,298.3 322.4,298.4 C323.4,298.5 324.4,298.6 325.4,298.7 C326.4,298.7 327.4,298.8 328.3,298.9 C329.3,299.0 330.3,299.0 331.3,299.1 C332.3,299.2 333.3,299.2 334.3,299.3 C335.3,299.3 336.3,299.4 337.3,299.4 C338.3,299.4 339.3,299.5 340.3,299.5 C341.2,299.5 342.2,299.5 343.2,299.5 C344.2,299.5 345.2,299.6 346.2,299.6 C347.2,299.5 348.2,299.5 349.2,299.5 C350.2,299.5 351.2,299.5 352.2,299.5 C353.2,299.4 354.2,299.4 355.2,299.4 C356.2,299.3 357.2,299.3 358.2,299.2 C359.2,299.2 360.2,299.1 361.1,299.0 C362.1,299.0 363.1,298.9 364.1,298.8 C365.1,298.7 366.1,298.7 367.1,298.6 C368.1,298.5 369.1,298.4 370.1,298.3 C371.1,298.2 372.1,298.1 373.1,297.9 C374.0,297.8 375.0,297.7 376.0,297.6 C377.0,297.4 378.0,297.3 379.0,297.2 C380.0,297.0 381.0,296.9 382.0,296.7 C382.9,296.6 383.9,296.4 384.9,296.2 C385.9,296.1 386.9,295.9 387.9,295.7 C388.9,295.5 389.8,295.4 390.8,295.2 C391.8,295.0 392.8,294.8 393.8,294.6 C394.7,294.4 395.7,294.2 396.7,294.0 C397.7,293.7 398.6,293.5 399.6,293.3 C400.6,293.1 401.6,292.8 402.5,292.6 C403.5,292.4 404.5,292.1 405.5,291.9 C406.4,291.6 407.4,291.4 408.4,291.1 C409.3,290.9 410.3,290.6 411.3,290.4 C412.3,290.1 413.2,289.9 414.2,289.6 C415.2,289.3 416.1,289.1 417.1,288.8 C418.0,288.5 419.0,288.2 420.0,288.0 C420.9,287.7 421.9,287.4 422.9,287.1 C423.8,286.9 424.8,286.6 425.7,286.3 C426.7,286.0 427.7,285.7 428.6,285.4 C429.6,285.2 430.5,284.9 431.5,284.6 C432.5,284.3 433.4,284.0 434.4,283.7 C435.3,283.4 436.3,283.1 437.2,282.8 C438.2,282.6 439.1,282.3 440.1,282.0 C441.1,281.7 442.0,281.4 443.0,281.1 C443.9,280.8 444.9,280.5 445.8,280.2 C446.8,280.0 447.7,279.7 448.7,279.4 C449.6,279.1 450.6,278.8 451.5,278.5 C452.5,278.3 453.4,278.0 454.4,277.7 C455.3,277.4 456.3,277.1 457.2,276.9 C458.2,276.6 459.1,276.3 460.0,276.0 C461.0,275.7 461.9,275.4 462.9,275.1 C463.8,274.9 464.8,274.6 465.7,274.3 C466.6,274.0 467.6,273.7 468.5,273.4 C469.5,273.1 470.4,272.8 471.3,272.5 C472.3,272.2 473.2,271.9 474.1,271.6 C475.1,271.3 476.0,271.0 476.9,270.7 C477.9,270.4 478.8,270.0 479.7,269.7 C480.6,269.4 481.6,269.1 482.5,268.7 C483.4,268.4 484.3,268.1 485.3,267.7 C486.2,267.4 487.1,267.0 488.0,266.7 C488.9,266.3 489.8,266.0 490.8,265.6 C491.7,265.2 492.6,264.9 493.5,264.5 C494.4,264.1 495.3,263.7 496.2,263.3 C497.1,262.9 498.0,262.5 498.9,262.1 C499.8,261.7 500.7,261.3 501.6,260.9 C502.5,260.4 503.4,260.0 504.3,259.5 C505.2,259.1 506.1,258.6 507.0,258.2 C507.9,257.7 508.8,257.2 509.6,256.8 C510.5,256.3 511.4,255.8 512.3,255.3 C513.2,254.8 514.0,254.3 514.9,253.8 C515.8,253.3 516.6,252.8 517.5,252.2 C518.4,251.7 519.2,251.2 520.1,250.6 C520.9,250.1 521.8,249.5 522.6,249.0 C523.5,248.4 524.3,247.8 525.1,247.2 C526.0,246.7 526.8,246.1 527.6,245.5 C528.4,244.9 529.2,244.3 530.1,243.7 C530.9,243.1 531.7,242.5 532.5,241.8 C533.3,241.2 534.1,240.6 534.8,240.0 C535.6,239.3 536.4,238.7 537.2,238.0 C538.0,237.4 538.7,236.7 539.5,236.0 C540.2,235.4 541.0,234.7 541.7,234.0 C542.5,233.3 543.2,232.7 543.9,232.0 C544.7,231.3 545.4,230.6 546.1,229.9 C546.8,229.2 547.5,228.4 548.2,227.7 C548.9,227.0 549.6,226.3 550.3,225.5 C551.0,224.8 551.6,224.1 552.3,223.3 C552.9,222.6 553.6,221.8 554.2,221.1 C554.9,220.3 555.5,219.5 556.1,218.8 C556.8,218.0 557.4,217.2 558.0,216.4 C558.6,215.7 559.2,214.9 559.8,214.1 C560.4,213.3 561.0,212.5 561.5,211.7 C562.1,210.9 562.7,210.1 563.2,209.3 C563.8,208.5 564.3,207.6 564.9,206.8 C565.4,206.0 566.0,205.2 566.5,204.3 C567.0,203.5 567.6,202.7 568.1,201.8 C568.6,201.0 569.1,200.1 569.6,199.3 C570.1,198.4 570.6,197.6 571.1,196.7 C571.6,195.9 572.1,195.0 572.6,194.1 C573.0,193.3 573.5,192.4 574.0,191.5 C574.4,190.6 574.9,189.8 575.3,188.9 C575.8,188.0 576.2,187.1 576.7,186.2 C577.1,185.3 577.6,184.5 578.0,183.6 C578.4,182.7 578.9,181.8 579.3,180.9 C579.7,180.0 580.1,179.1 580.5,178.2 C580.9,177.3 581.3,176.3 581.7,175.4 C582.1,174.5 582.5,173.6 582.9,172.7 C583.3,171.8 583.7,170.9 584.1,169.9 C584.5,169.0 584.8,168.1 585.2,167.2 C585.6,166.3 586.0,165.3 586.3,164.4 C586.7,163.5 587.0,162.5 587.4,161.6 C587.8,160.7 588.1,159.8 588.5,158.8 C588.8,157.9 589.2,157.0 589.5,156.0 C589.8,155.1 590.2,154.1 590.5,153.2 C590.9,152.3 591.2,151.3 591.5,150.4 C591.9,149.5 592.2,148.5 592.5,147.6 C592.8,146.6 593.2,145.7 593.5,144.8 C593.8,143.8 594.1,142.9 594.4,141.9 C594.7,141.0 595.1,140.0 595.4,139.1 C595.7,138.2 596.0,137.2 596.3,136.3 C596.6,135.3 596.9,134.4 597.2,133.5 C597.5,132.5 597.8,131.6 598.1,130.6 C598.4,129.7 598.7,128.7 599.0,127.8 C599.3,126.9 599.6,125.9 599.9,125.0 C600.2,124.0 600.5,123.1 600.8,122.1 C601.1,121.2 601.4,120.2 601.7,119.3 C602.0,118.4 602.3,117.4 602.6,116.5 C602.9,115.5 603.2,114.6 603.5,113.6 C603.7,112.7 604.0,111.7 604.3,110.8 C604.6,109.9 604.9,108.9 605.2,108.0 C605.5,107.0 605.8,106.1 606.1,105.1 C606.4,104.2 606.7,103.2 607.0,102.3 C607.3,101.3 607.6,100.4 607.9,99.4 C608.2,98.5 608.5,97.5 608.8,96.6 C609.1,95.6 609.4,94.7 609.7,93.7 C610.0,92.8 610.3,91.8 610.6,90.9 C610.9,89.9 611.2,89.0 611.5,88.0 C611.8,87.1 612.1,86.1 612.4,85.2 C612.7,84.2 613.1,83.3 613.4,82.3 C613.7,81.4 614.0,80.4 614.3,79.5 C614.7,78.5 615.0,77.6 615.3,76.6 C615.6,75.7 616.0,74.7 616.3,73.8 C616.6,72.8 617.0,71.8 617.3,70.9 C617.6,69.9 618.0,69.0 618.3,68.0 C618.7,67.1 619.0,66.1 619.4,65.2 C619.8,64.3 620.1,63.3 620.5,62.4 C620.9,61.4 621.3,60.5 621.7,59.6 C622.1,58.7 622.5,57.7 622.9,56.8 C623.3,55.9 623.7,55.0 624.1,54.1 C624.5,53.2 625.0,52.3 625.4,51.4 C625.8,50.5 626.3,49.6 626.8,48.7 C627.2,47.8 627.7,47.0 628.2,46.1 C628.7,45.2 629.2,44.4 629.7,43.5 C630.2,42.7 630.7,41.9 631.3,41.0 C631.8,40.2 632.4,39.4 632.9,38.6 C633.5,37.8 634.1,37.0 634.7,36.2 C635.3,35.4 635.9,34.7 636.5,33.9 C637.1,33.2 637.8,32.4 638.4,31.7 C639.1,31.0 639.8,30.3 640.5,29.6 C641.2,28.9 641.9,28.2 642.6,27.6 C643.3,26.9 644.1,26.3 644.9,25.7 C645.6,25.1 646.4,24.5 647.2,23.9 C648.0,23.4 648.8,22.8 649.7,22.3 C650.5,21.8 651.4,21.3 652.3,20.9 C653.2,20.4 654.0,20.0 655.0,19.6 C655.9,19.2 656.8,18.8 657.7,18.5 C658.7,18.2 659.6,17.8 660.6,17.5 C661.5,17.2 662.5,17.0 663.5,16.7 C664.5,16.5 665.5,16.3 666.5,16.1 C667.5,15.9 668.5,15.7 669.5,15.6 C670.5,15.5 671.5,15.3 672.6,15.2 C673.6,15.2 674.6,15.1 675.7,15.1 C676.7,15.0 678.3,15.0 678.8,15.0" stroke="#5e1018"/>
<path d="M160.0,236.1 C160.5,236.2 162.0,236.5 163.0,236.7 C164.0,236.9 165.0,237.1 166.0,237.3 C167.0,237.5 168.0,237.7 168.9,237.9 C169.9,238.2 170.9,238.4 171.9,238.6 C172.9,238.9 173.9,239.1 174.8,239.4 C175.8,239.6 176.8,239.8 177.8,240.1 C178.7,240.4 179.7,240.6 180.7,240.9 C181.6,241.2 182.6,241.4 183.6,241.7 C184.5,242.0 185.5,242.3 186.4,242.5 C187.4,242.8 188.3,243.1 189.3,243.4 C190.2,243.7 191.2,244.0 192.1,244.3 C193.1,244.6 194.0,244.9 195.0,245.2 C195.9,245.6 196.9,245.9 197.8,246.2 C198.7,246.5 199.7,246.8 200.6,247.2 C201.5,247.5 202.5,247.8 203.4,248.2 C204.3,248.5 205.3,248.8 206.2,249.2 C207.1,249.5 208.0,249.9 209.0,250.2 C209.9,250.6 210.8,250.9 211.7,251.3 C212.7,251.7 213.6,252.0 214.5,252.4 C215.4,252.8 216.3,253.1 217.2,253.5 C218.2,253.9 219.1,254.2 220.0,254.6 C220.9,255.0 221.8,255.4 222.7,255.8 C223.6,256.1 224.6,256.5 225.5,256.9 C226.4,257.3 227.3,257.7 228.2,258.1 C229.1,258.5 230.0,258.9 230.9,259.3 C231.8,259.7 232.7,260.1 233.6,260.5 C234.5,260.9 235.5,261.3 236.4,261.7 C237.3,262.1 238.2,262.5 239.1,262.9 C240.0,263.3 240.9,263.8 241.8,264.2 C242.7,264.6 243.6,265.0 244.5,265.4 C245.4,265.8 246.3,266.3 247.2,266.7 C248.1,267.1 249.0,267.5 249.9,267.9 C250.8,268.4 251.7,268.8 252.7,269.2 C253.6,269.6 254.5,270.1 255.4,270.5 C256.3,270.9 257.2,271.3 258.1,271.8 C259.0,272.2 259.9,272.6 260.8,273.1 C261.7,273.5 262.6,273.9 263.6,274.3 C264.5,274.8 265.4,275.2 266.3,275.6 C267.2,276.1 268.1,276.5 269.0,276.9 C269.9,277.3 270.9,277.7 271.8,278.2 C272.7,278.6 273.6,279.0 274.5,279.4 C275.4,279.8 276.4,280.2 277.3,280.6 C278.2,281.0 279.1,281.4 280.0,281.8 C281.0,282.2 281.9,282.6 282.8,282.9 C283.7,283.3 284.7,283.7 285.6,284.0 C286.5,284.4 287.5,284.8 288.4,285.1 C289.3,285.4 290.2,285.8 291.2,286.1 C292.1,286.4 293.0,286.7 294.0,287.1 C294.9,287.4 295.8,287.7 296.8,287.9 C297.7,288.2 298.7,288.5 299.6,288.7 C300.6,289.0 301.5,289.2 302.4,289.5 C303.4,289.7 304.3,289.9 305.3,290.1 C306.2,290.3 307.2,290.5 308.1,290.7 C309.1,290.9 310.0,291.0 311.0,291.2 C311.9,291.3 312.9,291.4 313.9,291.6 C314.8,291.7 315.8,291.8 316.7,291.8 C317.7,291.9 318.7,292.0 319.6,292.0 C320.6,292.1 321.6,292.1 322.5,292.1 C323.5,292.1 324.5,292.1 325.5,292.1 C326.4,292.0 327.4,292.0 328.4,291.9 C329.4,291.9 330.3,291.8 331.3,291.7 C332.3,291.7 333.3,291.6 334.3,291.5 C335.2,291.3 336.2,291.2 337.2,291.1 C338.2,291.0 339.2,290.8 340.1,290.7 C341.1,290.5 342.1,290.3 343.1,290.1 C344.1,290.0 345.1,289.8 346.1,289.6 C347.0,289.4 348.0,289.2 349.0,288.9 C350.0,288.7 351.0,288.5 352.0,288.3 C353.0,288.0 353.9,287.8 354.9,287.5 C355.9,287.3 356.9,287.0 357.9,286.7 C358.9,286.5 359.8,286.2 360.8,285.9 C361.8,285.6 362.8,285.3 363.8,285.0 C364.8,284.7 365.7,284.4 366.7,284.1 C367.7,283.8 368.7,283.5 369.7,283.2 C370.7,282.9 371.6,282.5 372.6,282.2 C373.6,281.9 374.6,281.6 375.5,281.2 C376.5,280.9 377.5,280.6 378.5,280.2 C379.4,279.9 380.4,279.6 381.4,279.2 C382.3,278.9 383.3,278.6 384.3,278.2 C385.2,277.9 386.2,277.5 387.2,277.2 C388.1,276.9 389.1,276.5 390.0,276.2 C391.0,275.8 392.0,275.5 392.9,275.2 C393.9,274.8 394.8,274.5 395.8,274.2 C396.7,273.8 397.7,273.5 398.6,273.2 C399.6,272.8 400.5,272.5 401.4,272.2 C402.4,271.8 403.3,271.5 404.3,271.2 C405.2,270.8 406.1,270.5 407.1,270.2 C408.0,269.9 408.9,269.5 409.9,269.2 C410.8,268.9 411.7,268.6 412.7,268.2 C413.6,267.9 414.5,267.6 415.4,267.2 C416.4,266.9 417.3,266.6 418.2,266.3 C419.1,265.9 420.1,265.6 421.0,265.3 C421.9,265.0 422.8,264.6 423.7,264.3 C424.7,264.0 425.6,263.6 426.5,263.3 C427.4,263.0 428.3,262.7 429.3,262.3 C430.2,262.0 431.1,261.7 432.0,261.3 C432.9,261.0 433.8,260.7 434.7,260.3 C435.7,260.0 436.6,259.7 437.5,259.3 C438.4,259.0 439.3,258.7 440.2,258.3 C441.1,258.0 442.0,257.7 443.0,257.3 C443.9,257.0 444.8,256.7 445.7,256.3 C446.6,256.0 447.5,255.6 448.4,255.3 C449.3,254.9 450.2,254.6 451.2,254.3 C452.1,253.9 453.0,253.6 453.9,253.2 C454.8,252.9 455.7,252.5 456.6,252.2 C457.5,251.8 458.4,251.4 459.4,251.1 C460.3,250.7 461.2,250.4 462.1,250.0 C463.0,249.6 463.9,249.3 464.8,248.9 C465.8,248.5 466.7,248.2 467.6,247.8 C468.5,247.4 469.4,247.1 470.3,246.7 C471.3,246.3 472.2,245.9 473.1,245.5 C474.0,245.2 474.9,244.8 475.9,244.4 C476.8,244.0 477.7,243.6 478.6,243.2 C479.5,242.8 480.5,242.4 481.4,242.0 C482.3,241.6 483.2,241.2 484.2,240.8 C485.1,240.4 486.0,240.0 486.9,239.6 C487.9,239.2 488.8,238.8 489.7,238.4 C490.6,237.9 491.5,237.5 492.5,237.1 C493.4,236.7 494.3,236.2 495.2,235.8 C496.2,235.4 497.1,234.9 498.0,234.5 C498.9,234.0 499.8,233.6 500.7,233.2 C501.6,232.7 502.6,232.2 503.5,231.8 C504.4,231.3 505.3,230.9 506.2,230.4 C507.1,229.9 508.0,229.5 508.9,229.0 C509.8,228.5 510.7,228.0 511.6,227.6 C512.5,227.1 513.4,226.6 514.3,226.1 C515.1,225.6 516.0,225.1 516.9,224.6 C517.8,224.1 518.7,223.6 519.5,223.1 C520.4,222.6 521.3,222.0 522.2,221.5 C523.0,221.0 523.9,220.5 524.7,219.9 C525.6,219.4 526.4,218.9 527.3,218.3 C528.1,217.8 529.0,217.2 529.8,216.7 C530.7,216.1 531.5,215.5 532.3,215.0 C533.2,214.4 534.0,213.8 534.8,213.3 C535.6,212.7 536.4,212.1 537.2,211.5 C538.0,210.9 538.8,210.3 539.6,209.7 C540.4,209.1 541.2,208.5 542.0,207.9 C542.8,207.3 543.6,206.6 544.3,206.0 C545.1,205.4 545.9,204.8 546.6,204.1 C547.4,203.5 548.1,202.8 548.8,202.2 C549.6,201.5 550.3,200.9 551.0,200.2 C551.8,199.5 552.5,198.8 553.2,198.2 C553.9,197.5 554.6,196.8 555.3,196.1 C556.0,195.4 556.7,194.7 557.4,194.0 C558.0,193.3 558.7,192.6 559.4,191.8 C560.0,191.1 560.7,190.4 561.3,189.6 C562.0,188.9 562.6,188.2 563.2,187.4 C563.8,186.6 564.4,185.9 565.1,185.1 C565.7,184.3 566.3,183.6 566.8,182.8 C567.4,182.0 568.0,181.2 568.6,180.4 C569.1,179.6 569.7,178.8 570.2,178.0 C570.8,177.1 571.3,176.3 571.8,175.5 C572.4,174.7 572.9,173.8 573.4,173.0 C573.9,172.1 574.4,171.3 574.9,170.4 C575.4,169.6 575.9,168.7 576.3,167.8 C576.8,166.9 577.3,166.1 577.7,165.2 C578.2,164.3 578.6,163.4 579.1,162.5 C579.5,161.6 580.0,160.7 580.4,159.8 C580.8,158.9 581.2,158.0 581.7,157.1 C582.1,156.2 582.5,155.3 582.9,154.4 C583.3,153.5 583.7,152.5 584.1,151.6 C584.5,150.7 584.9,149.8 585.3,148.8 C585.7,147.9 586.0,147.0 586.4,146.0 C586.8,145.1 587.2,144.2 587.5,143.2 C587.9,142.3 588.2,141.4 588.6,140.4 C589.0,139.5 589.3,138.5 589.7,137.6 C590.0,136.6 590.4,135.7 590.7,134.8 C591.1,133.8 591.4,132.9 591.7,131.9 C592.1,131.0 592.4,130.0 592.8,129.1 C593.1,128.1 593.4,127.2 593.8,126.3 C594.1,125.3 594.4,124.4 594.7,123.4 C595.1,122.5 595.4,121.5 595.7,120.6 C596.1,119.7 596.4,118.7 596.7,117.8 C597.0,116.8 597.4,115.9 597.7,115.0 C598.0,114.0 598.3,113.1 598.6,112.2 C599.0,111.2 599.3,110.3 599.6,109.4 C599.9,108.4 600.3,107.5 600.6,106.6 C600.9,105.6 601.2,104.7 601.5,103.8 C601.9,102.8 602.2,101.9 602.5,101.0 C602.8,100.0 603.2,99.1 603.5,98.2 C603.8,97.2 604.1,96.3 604.5,95.4 C604.8,94.4 605.1,93.5 605.4,92.6 C605.8,91.6 606.1,90.7 606.4,89.8 C606.8,88.8 607.1,87.9 607.4,87.0 C607.7,86.0 608.1,85.1 608.4,84.2 C608.8,83.2 609.1,82.3 609.4,81.3 C609.8,80.4 610.1,79.5 610.5,78.5 C610.8,77.6 611.2,76.7 611.5,75.7 C611.9,74.8 612.2,73.9 612.6,72.9 C612.9,72.0 613.3,71.0 613.7,70.1 C614.0,69.2 614.4,68.2 614.7,67.3 C615.1,66.3 615.5,65.4 615.9,64.4 C616.2,63.5 616.6,62.6 617.0,61.6 C617.4,60.7 617.8,59.7 618.2,58.8 C618.6,57.9 619.0,56.9 619.4,56.0 C619.8,55.1 620.2,54.2 620.6,53.2 C621.1,52.3 621.5,51.4 621.9,50.5 C622.4,49.6 622.8,48.7 623.3,47.8 C623.8,46.9 624.3,46.0 624.7,45.1 C625.2,44.3 625.7,43.4 626.2,42.5 C626.7,41.7 627.3,40.8 627.8,40.0 C628.3,39.2 628.9,38.4 629.5,37.6 C630.0,36.8 630.6,36.0 631.2,35.2 C631.8,34.4 632.4,33.6 633.0,32.9 C633.7,32.1 634.3,31.4 635.0,30.7 C635.7,30.0 636.3,29.3 637.0,28.6 C637.7,27.9 638.5,27.2 639.2,26.6 C639.9,26.0 640.7,25.3 641.5,24.8 C642.2,24.2 643.0,23.6 643.9,23.0 C644.7,22.5 645.5,22.0 646.4,21.5 C647.2,21.0 648.1,20.5 649.0,20.1 C649.8,19.7 650.8,19.3 651.7,18.9 C652.6,18.5 653.5,18.2 654.5,17.9 C655.4,17.6 656.4,17.3 657.4,17.0 C658.3,16.7 659.3,16.5 660.3,16.3 C661.3,16.1 662.3,15.9 663.3,15.7 C664.3,15.5 665.3,15.4 666.3,15.3 C667.3,15.1 668.3,15.0 669.3,15.0 C670.4,14.9 671.4,14.8 672.4,14.8 C673.4,14.7 674.4,14.7 675.4,14.7 C676.4,14.7 678.0,14.8 678.5,14.8" stroke="#e08238"/>
</g>
<rect x="105.5" y="12.3" width="153.1" height="239" fill="#fff" stroke="#333" stroke-width="1"/>
<path d="M108.2,28.2 H161.8" stroke="#1c1c1c" stroke-width="3.5" fill="none"/>
<text x="169.0" y="37.2" class="lg">Pt(111)</text>
<path d="M108.2,57.8 H161.8" stroke="#d01f2e" stroke-width="3.5" fill="none"/>
<text x="169.0" y="66.8" class="lg">Pt(554)</text>
<path d="M108.2,87.4 H161.8" stroke="#284d9a" stroke-width="3.5" fill="none"/>
<text x="169.0" y="96.4" class="lg">0.11 ML</text>
<path d="M108.2,117.0 H161.8" stroke="#a8589a" stroke-width="3.5" fill="none"/>
<text x="169.0" y="126.0" class="lg">0.46 ML</text>
<path d="M108.2,146.6 H161.8" stroke="#1a7045" stroke-width="3.5" fill="none"/>
<text x="169.0" y="155.6" class="lg">0.51 ML</text>
<path d="M108.2,176.2 H161.8" stroke="#2893bb" stroke-width="3.5" fill="none"/>
<text x="169.0" y="185.2" class="lg">0.68 ML</text>
<path d="M108.2,205.8 H161.8" stroke="#5e1018" stroke-width="3.5" fill="none"/>
<text x="169.0" y="214.8" class="lg">0.82 ML</text>
<path d="M108.2,235.4 H161.8" stroke="#e08238" stroke-width="3.5" fill="none"/>
<text x="169.0" y="244.4" class="lg">0.89 ML</text>
<path d="M819.2,15.3 H1388.7 V475.3 H819.2 Z" class="ax"/>
<path d="M876.1,475.3 v9" class="ax"/>
<path d="M989.8,475.3 v9" class="ax"/>
<path d="M1103.6,475.3 v9" class="ax"/>
<path d="M1217.4,475.3 v9" class="ax"/>
<path d="M1331.1,475.3 v9" class="ax"/>
<path d="M819.2,475.3 v4.5" class="ax"/>
<path d="M933.0,475.3 v4.5" class="ax"/>
<path d="M1046.7,475.3 v4.5" class="ax"/>
<path d="M1160.5,475.3 v4.5" class="ax"/>
<path d="M1274.2,475.3 v4.5" class="ax"/>
<path d="M1388.7,475.3 v4.5" class="ax"/>
<path d="M819.2,15.3 h-9" class="ax"/>
<path d="M819.2,130.3 h-9" class="ax"/>
<path d="M819.2,245.3 h-9" class="ax"/>
<path d="M819.2,360.3 h-9" class="ax"/>
<path d="M819.2,475.3 h-9" class="ax"/>
<path d="M819.2,72.8 h-4.5" class="ax"/>
<path d="M819.2,187.8 h-4.5" class="ax"/>
<path d="M819.2,302.8 h-4.5" class="ax"/>
<path d="M819.2,417.8 h-4.5" class="ax"/>
<text transform="translate(876.1,511.2) scale(0.91,1)" text-anchor="middle" class="tl">0.86</text>
<text transform="translate(989.8,511.2) scale(0.91,1)" text-anchor="middle" class="tl">0.88</text>
<text transform="translate(1103.6,511.2) scale(0.91,1)" text-anchor="middle" class="tl">0.90</text>
<text transform="translate(1217.4,511.2) scale(0.91,1)" text-anchor="middle" class="tl">0.92</text>
<text transform="translate(1331.1,511.2) scale(0.91,1)" text-anchor="middle" class="tl">0.94</text>
<text transform="translate(804.2,23.1) scale(0.91,1)" text-anchor="end" class="tl">0.0</text>
<text transform="translate(804.2,138.1) scale(0.91,1)" text-anchor="end" class="tl">-0.5</text>
<text transform="translate(804.2,253.1) scale(0.91,1)" text-anchor="end" class="tl">-1.0</text>
<text transform="translate(804.2,368.1) scale(0.91,1)" text-anchor="end" class="tl">-1.5</text>
<text transform="translate(804.2,483.1) scale(0.91,1)" text-anchor="end" class="tl">-2.0</text>
<g class="cv" clip-path="url(#cb)">
<path d="M882.0,475.4 C883.0,473.2 886.0,466.4 888.0,461.9 C890.0,457.5 892.0,453.1 894.0,448.8 C896.0,444.4 898.0,440.2 900.0,435.9 C902.0,431.7 904.0,427.5 906.0,423.3 C908.0,419.2 910.0,415.1 912.0,411.0 C914.0,407.0 916.0,403.0 918.0,399.0 C920.0,395.1 922.0,391.2 924.0,387.3 C926.0,383.4 928.0,379.6 930.0,375.8 C932.0,372.0 934.0,368.3 936.0,364.6 C938.0,360.9 940.0,357.3 942.0,353.7 C944.0,350.1 946.0,346.5 948.0,343.0 C950.0,339.5 952.0,336.1 954.0,332.6 C956.0,329.2 958.0,325.8 960.0,322.5 C962.0,319.1 964.0,315.8 966.0,312.6 C968.0,309.3 970.0,306.1 972.0,302.9 C974.0,299.7 976.0,296.6 978.0,293.5 C980.0,290.4 982.0,287.4 984.0,284.3 C986.0,281.3 988.0,278.3 990.0,275.4 C992.0,272.5 994.0,269.6 996.0,266.7 C998.0,263.8 1000.0,261.0 1002.0,258.2 C1004.0,255.5 1006.0,252.7 1008.0,250.0 C1010.0,247.3 1012.0,244.6 1014.0,242.0 C1016.0,239.3 1018.0,236.7 1020.0,234.2 C1022.0,231.6 1024.0,229.1 1026.0,226.6 C1028.0,224.1 1030.0,221.6 1032.0,219.2 C1034.0,216.8 1036.0,214.4 1038.0,212.0 C1040.0,209.7 1042.0,207.3 1044.0,205.1 C1046.0,202.8 1048.0,200.5 1050.0,198.3 C1052.0,196.1 1054.0,193.9 1056.0,191.7 C1058.0,189.6 1060.0,187.4 1062.0,185.3 C1064.0,183.2 1066.0,181.2 1068.0,179.1 C1070.0,177.1 1072.0,175.1 1074.0,173.1 C1076.0,171.2 1078.0,169.2 1080.0,167.3 C1082.0,165.4 1084.0,163.5 1086.0,161.7 C1088.0,159.8 1090.0,158.0 1092.0,156.2 C1094.0,154.4 1096.0,152.6 1098.0,150.9 C1100.0,149.1 1102.0,147.4 1104.0,145.7 C1106.0,144.0 1108.0,142.4 1110.0,140.8 C1112.0,139.1 1114.0,137.5 1116.0,135.9 C1118.0,134.4 1120.0,132.8 1122.0,131.3 C1124.0,129.7 1126.0,128.2 1128.0,126.8 C1130.0,125.3 1132.0,123.8 1134.0,122.4 C1136.0,121.0 1138.0,119.6 1140.0,118.2 C1142.0,116.8 1144.0,115.5 1146.0,114.1 C1148.0,112.8 1150.0,111.5 1152.0,110.2 C1154.0,108.9 1156.0,107.6 1158.0,106.4 C1160.0,105.2 1162.0,103.9 1164.0,102.7 C1166.0,101.5 1168.0,100.4 1170.0,99.2 C1172.0,98.1 1174.0,96.9 1176.0,95.8 C1178.0,94.7 1180.0,93.6 1182.0,92.5 C1184.0,91.5 1186.0,90.4 1188.0,89.4 C1190.0,88.4 1192.0,87.3 1194.0,86.4 C1196.0,85.4 1198.0,84.4 1200.0,83.4 C1202.0,82.5 1204.0,81.5 1206.0,80.6 C1208.0,79.7 1210.0,78.8 1212.0,77.9 C1214.0,77.1 1216.0,76.2 1218.0,75.4 C1220.0,74.5 1222.0,73.7 1224.0,72.9 C1226.0,72.1 1228.0,71.3 1230.0,70.5 C1232.0,69.7 1234.0,68.9 1236.0,68.2 C1238.0,67.4 1240.0,66.7 1242.0,66.0 C1244.0,65.3 1246.0,64.6 1248.0,63.9 C1250.0,63.2 1252.0,62.5 1254.0,61.9 C1256.0,61.2 1258.0,60.6 1260.0,60.0 C1262.0,59.3 1264.0,58.7 1266.0,58.1 C1268.0,57.5 1270.0,56.9 1272.0,56.4 C1274.0,55.8 1276.0,55.2 1278.0,54.7 C1280.0,54.1 1282.0,53.6 1284.0,53.0 C1286.0,52.5 1288.0,52.0 1290.0,51.5 C1292.0,51.0 1294.0,50.5 1296.0,50.0 C1298.0,49.5 1300.0,49.1 1302.0,48.6 C1304.0,48.1 1306.0,47.7 1308.0,47.2 C1310.0,46.8 1312.0,46.4 1314.0,46.0 C1316.0,45.5 1318.0,45.1 1320.0,44.7 C1322.0,44.3 1324.0,43.9 1326.0,43.5 C1328.0,43.1 1330.0,42.7 1332.0,42.4 C1334.0,42.0 1336.0,41.6 1338.0,41.3 C1340.0,40.9 1342.0,40.6 1344.0,40.2 C1346.0,39.9 1348.0,39.5 1350.0,39.2 C1352.0,38.9 1354.0,38.5 1356.0,38.2 C1358.0,37.9 1360.0,37.6 1362.0,37.3 C1364.0,37.0 1366.0,36.7 1368.0,36.4 C1370.0,36.1 1372.0,35.8 1374.0,35.5 C1376.0,35.2 1378.0,34.9 1380.0,34.6 C1382.0,34.3 1384.7,34.0 1386.0,33.8 C1387.3,33.6 1387.7,33.5 1388.0,33.5" stroke="#1c1c1c"/>
<path d="M1037.8,476.0 C1038.8,474.1 1041.8,468.4 1043.8,464.7 C1045.8,461.0 1047.8,457.3 1049.8,453.6 C1051.8,449.9 1053.8,446.3 1055.8,442.6 C1057.8,439.0 1059.8,435.4 1061.8,431.8 C1063.8,428.3 1065.8,424.7 1067.8,421.2 C1069.8,417.7 1071.8,414.2 1073.8,410.7 C1075.8,407.3 1077.8,403.8 1079.8,400.4 C1081.8,397.0 1083.8,393.6 1085.8,390.3 C1087.8,386.9 1089.8,383.6 1091.8,380.2 C1093.8,376.9 1095.8,373.7 1097.8,370.4 C1099.8,367.1 1101.8,363.9 1103.8,360.7 C1105.8,357.5 1107.8,354.3 1109.8,351.2 C1111.8,348.0 1113.8,344.9 1115.8,341.8 C1117.8,338.7 1119.8,335.6 1121.8,332.6 C1123.8,329.5 1125.8,326.5 1127.8,323.5 C1129.8,320.5 1131.8,317.5 1133.8,314.6 C1135.8,311.6 1137.8,308.7 1139.8,305.8 C1141.8,302.9 1143.8,300.1 1145.8,297.2 C1147.8,294.4 1149.8,291.6 1151.8,288.8 C1153.8,286.0 1155.8,283.2 1157.8,280.5 C1159.8,277.7 1161.8,275.0 1163.8,272.3 C1165.8,269.7 1167.8,267.0 1169.8,264.4 C1171.8,261.7 1173.8,259.1 1175.8,256.5 C1177.8,253.9 1179.8,251.4 1181.8,248.8 C1183.8,246.3 1185.8,243.8 1187.8,241.3 C1189.8,238.8 1191.8,236.4 1193.8,233.9 C1195.8,231.5 1197.8,229.1 1199.8,226.7 C1201.8,224.3 1203.8,222.0 1205.8,219.7 C1207.8,217.3 1209.8,215.0 1211.8,212.7 C1213.8,210.5 1215.8,208.2 1217.8,206.0 C1219.8,203.7 1221.8,201.5 1223.8,199.4 C1225.8,197.2 1227.8,195.0 1229.8,192.9 C1231.8,190.8 1233.8,188.7 1235.8,186.6 C1237.8,184.5 1239.8,182.5 1241.8,180.4 C1243.8,178.4 1245.8,176.4 1247.8,174.4 C1249.8,172.4 1251.8,170.5 1253.8,168.6 C1255.8,166.6 1257.8,164.7 1259.8,162.8 C1261.8,161.0 1263.8,159.1 1265.8,157.3 C1267.8,155.5 1269.8,153.7 1271.8,151.9 C1273.8,150.1 1275.8,148.3 1277.8,146.6 C1279.8,144.9 1281.8,143.2 1283.8,141.5 C1285.8,139.8 1287.8,138.2 1289.8,136.5 C1291.8,134.9 1293.8,133.3 1295.8,131.7 C1297.8,130.1 1299.8,128.6 1301.8,127.0 C1303.8,125.5 1305.8,124.0 1307.8,122.5 C1309.8,121.0 1311.8,119.6 1313.8,118.2 C1315.8,116.7 1317.8,115.3 1319.8,113.9 C1321.8,112.5 1323.8,111.2 1325.8,109.9 C1327.8,108.5 1329.8,107.2 1331.8,105.9 C1333.8,104.6 1335.8,103.4 1337.8,102.1 C1339.8,100.9 1341.8,99.7 1343.8,98.5 C1345.8,97.3 1347.8,96.1 1349.8,95.0 C1351.8,93.9 1353.8,92.8 1355.8,91.7 C1357.8,90.6 1359.8,89.5 1361.8,88.5 C1363.8,87.4 1365.8,86.4 1367.8,85.4 C1369.8,84.4 1371.8,83.4 1373.8,82.5 C1375.8,81.6 1377.8,80.6 1379.8,79.7 C1381.8,78.8 1384.4,77.7 1385.8,77.1 C1387.2,76.5 1387.6,76.3 1388.0,76.2" stroke="#d01f2e"/>
<path d="M1055.5,476.1 C1056.5,474.3 1059.5,469.0 1061.5,465.5 C1063.5,461.9 1065.5,458.4 1067.5,454.9 C1069.5,451.5 1071.5,448.0 1073.5,444.6 C1075.5,441.1 1077.5,437.7 1079.5,434.3 C1081.5,431.0 1083.5,427.6 1085.5,424.2 C1087.5,420.9 1089.5,417.6 1091.5,414.3 C1093.5,411.0 1095.5,407.7 1097.5,404.5 C1099.5,401.2 1101.5,398.0 1103.5,394.8 C1105.5,391.6 1107.5,388.4 1109.5,385.2 C1111.5,382.1 1113.5,378.9 1115.5,375.8 C1117.5,372.7 1119.5,369.6 1121.5,366.5 C1123.5,363.5 1125.5,360.4 1127.5,357.4 C1129.5,354.4 1131.5,351.4 1133.5,348.4 C1135.5,345.4 1137.5,342.5 1139.5,339.5 C1141.5,336.6 1143.5,333.7 1145.5,330.8 C1147.5,327.9 1149.5,325.1 1151.5,322.2 C1153.5,319.4 1155.5,316.6 1157.5,313.8 C1159.5,311.0 1161.5,308.2 1163.5,305.5 C1165.5,302.7 1167.5,300.0 1169.5,297.3 C1171.5,294.6 1173.5,291.9 1175.5,289.2 C1177.5,286.6 1179.5,284.0 1181.5,281.3 C1183.5,278.7 1185.5,276.1 1187.5,273.6 C1189.5,271.0 1191.5,268.5 1193.5,265.9 C1195.5,263.4 1197.5,260.9 1199.5,258.5 C1201.5,256.0 1203.5,253.5 1205.5,251.1 C1207.5,248.7 1209.5,246.3 1211.5,243.9 C1213.5,241.5 1215.5,239.1 1217.5,236.8 C1219.5,234.5 1221.5,232.1 1223.5,229.9 C1225.5,227.6 1227.5,225.3 1229.5,223.0 C1231.5,220.8 1233.5,218.6 1235.5,216.4 C1237.5,214.2 1239.5,212.0 1241.5,209.8 C1243.5,207.7 1245.5,205.5 1247.5,203.4 C1249.5,201.3 1251.5,199.2 1253.5,197.2 C1255.5,195.1 1257.5,193.1 1259.5,191.0 C1261.5,189.0 1263.5,187.0 1265.5,185.1 C1267.5,183.1 1269.5,181.1 1271.5,179.2 C1273.5,177.3 1275.5,175.4 1277.5,173.5 C1279.5,171.6 1281.5,169.7 1283.5,167.9 C1285.5,166.1 1287.5,164.3 1289.5,162.5 C1291.5,160.7 1293.5,158.9 1295.5,157.2 C1297.5,155.4 1299.5,153.7 1301.5,152.0 C1303.5,150.3 1305.5,148.6 1307.5,147.0 C1309.5,145.3 1311.5,143.7 1313.5,142.1 C1315.5,140.4 1317.5,138.9 1319.5,137.3 C1321.5,135.7 1323.5,134.2 1325.5,132.7 C1327.5,131.2 1329.5,129.7 1331.5,128.2 C1333.5,126.7 1335.5,125.3 1337.5,123.8 C1339.5,122.4 1341.5,121.0 1343.5,119.6 C1345.5,118.2 1347.5,116.9 1349.5,115.5 C1351.5,114.2 1353.5,112.9 1355.5,111.6 C1357.5,110.3 1359.5,109.0 1361.5,107.8 C1363.5,106.5 1365.5,105.3 1367.5,104.1 C1369.5,102.9 1371.5,101.7 1373.5,100.6 C1375.5,99.4 1377.5,98.3 1379.5,97.2 C1381.5,96.1 1384.1,94.7 1385.5,93.9 C1386.9,93.2 1387.6,92.8 1388.0,92.6" stroke="#284d9a"/>
<path d="M997.9,475.4 C998.9,473.7 1001.9,468.4 1003.9,465.0 C1005.9,461.5 1007.9,458.1 1009.9,454.6 C1011.9,451.2 1013.9,447.8 1015.9,444.5 C1017.9,441.1 1019.9,437.7 1021.9,434.4 C1023.9,431.1 1025.9,427.8 1027.9,424.5 C1029.9,421.2 1031.9,417.9 1033.9,414.7 C1035.9,411.4 1037.9,408.2 1039.9,405.0 C1041.9,401.8 1043.9,398.6 1045.9,395.5 C1047.9,392.3 1049.9,389.2 1051.9,386.1 C1053.9,383.0 1055.9,379.9 1057.9,376.8 C1059.9,373.8 1061.9,370.7 1063.9,367.7 C1065.9,364.7 1067.9,361.7 1069.9,358.7 C1071.9,355.8 1073.9,352.8 1075.9,349.9 C1077.9,347.0 1079.9,344.1 1081.9,341.2 C1083.9,338.3 1085.9,335.4 1087.9,332.6 C1089.9,329.8 1091.9,326.9 1093.9,324.1 C1095.9,321.3 1097.9,318.6 1099.9,315.8 C1101.9,313.1 1103.9,310.4 1105.9,307.6 C1107.9,304.9 1109.9,302.3 1111.9,299.6 C1113.9,296.9 1115.9,294.3 1117.9,291.7 C1119.9,289.1 1121.9,286.5 1123.9,283.9 C1125.9,281.3 1127.9,278.8 1129.9,276.3 C1131.9,273.7 1133.9,271.2 1135.9,268.8 C1137.9,266.3 1139.9,263.8 1141.9,261.4 C1143.9,259.0 1145.9,256.5 1147.9,254.1 C1149.9,251.8 1151.9,249.4 1153.9,247.0 C1155.9,244.7 1157.9,242.4 1159.9,240.1 C1161.9,237.8 1163.9,235.5 1165.9,233.2 C1167.9,231.0 1169.9,228.7 1171.9,226.5 C1173.9,224.3 1175.9,222.1 1177.9,220.0 C1179.9,217.8 1181.9,215.7 1183.9,213.5 C1185.9,211.4 1187.9,209.3 1189.9,207.2 C1191.9,205.2 1193.9,203.1 1195.9,201.1 C1197.9,199.0 1199.9,197.0 1201.9,195.0 C1203.9,193.0 1205.9,191.1 1207.9,189.1 C1209.9,187.2 1211.9,185.3 1213.9,183.4 C1215.9,181.5 1217.9,179.6 1219.9,177.7 C1221.9,175.9 1223.9,174.0 1225.9,172.2 C1227.9,170.4 1229.9,168.6 1231.9,166.8 C1233.9,165.1 1235.9,163.3 1237.9,161.6 C1239.9,159.8 1241.9,158.1 1243.9,156.5 C1245.9,154.8 1247.9,153.1 1249.9,151.5 C1251.9,149.8 1253.9,148.2 1255.9,146.6 C1257.9,145.0 1259.9,143.4 1261.9,141.8 C1263.9,140.3 1265.9,138.7 1267.9,137.2 C1269.9,135.7 1271.9,134.2 1273.9,132.7 C1275.9,131.2 1277.9,129.8 1279.9,128.3 C1281.9,126.9 1283.9,125.5 1285.9,124.1 C1287.9,122.7 1289.9,121.3 1291.9,120.0 C1293.9,118.6 1295.9,117.3 1297.9,116.0 C1299.9,114.6 1301.9,113.3 1303.9,112.1 C1305.9,110.8 1307.9,109.5 1309.9,108.3 C1311.9,107.1 1313.9,105.9 1315.9,104.7 C1317.9,103.5 1319.9,102.3 1321.9,101.1 C1323.9,100.0 1325.9,98.8 1327.9,97.7 C1329.9,96.6 1331.9,95.5 1333.9,94.4 C1335.9,93.4 1337.9,92.3 1339.9,91.3 C1341.9,90.2 1343.9,89.2 1345.9,88.2 C1347.9,87.2 1349.9,86.2 1351.9,85.3 C1353.9,84.3 1355.9,83.4 1357.9,82.4 C1359.9,81.5 1361.9,80.6 1363.9,79.7 C1365.9,78.8 1367.9,78.0 1369.9,77.1 C1371.9,76.3 1373.9,75.4 1375.9,74.6 C1377.9,73.8 1379.9,73.0 1381.9,72.3 C1383.9,71.5 1386.9,70.4 1387.9,70.0 C1388.9,69.6 1388.0,70.0 1388.0,70.0" stroke="#a8589a"/>
<path d="M1053.3,475.6 C1054.3,473.6 1057.3,467.6 1059.3,463.7 C1061.3,459.7 1063.3,455.7 1065.3,451.7 C1067.3,447.8 1069.3,443.8 1071.3,439.9 C1073.3,436.0 1075.3,432.1 1077.3,428.2 C1079.3,424.4 1081.3,420.5 1083.3,416.7 C1085.3,412.9 1087.3,409.2 1089.3,405.5 C1091.3,401.7 1093.3,398.1 1095.3,394.4 C1097.3,390.8 1099.3,387.1 1101.3,383.6 C1103.3,380.0 1105.3,376.4 1107.3,372.9 C1109.3,369.4 1111.3,366.0 1113.3,362.5 C1115.3,359.1 1117.3,355.7 1119.3,352.3 C1121.3,349.0 1123.3,345.7 1125.3,342.4 C1127.3,339.1 1129.3,335.8 1131.3,332.6 C1133.3,329.4 1135.3,326.2 1137.3,323.0 C1139.3,319.9 1141.3,316.8 1143.3,313.7 C1145.3,310.6 1147.3,307.6 1149.3,304.6 C1151.3,301.5 1153.3,298.6 1155.3,295.6 C1157.3,292.7 1159.3,289.8 1161.3,286.9 C1163.3,284.0 1165.3,281.1 1167.3,278.3 C1169.3,275.5 1171.3,272.7 1173.3,270.0 C1175.3,267.2 1177.3,264.5 1179.3,261.8 C1181.3,259.1 1183.3,256.5 1185.3,253.9 C1187.3,251.3 1189.3,248.7 1191.3,246.1 C1193.3,243.6 1195.3,241.0 1197.3,238.5 C1199.3,236.0 1201.3,233.6 1203.3,231.1 C1205.3,228.7 1207.3,226.3 1209.3,223.9 C1211.3,221.6 1213.3,219.2 1215.3,216.9 C1217.3,214.6 1219.3,212.3 1221.3,210.1 C1223.3,207.8 1225.3,205.6 1227.3,203.4 C1229.3,201.2 1231.3,199.1 1233.3,196.9 C1235.3,194.8 1237.3,192.7 1239.3,190.6 C1241.3,188.5 1243.3,186.5 1245.3,184.5 C1247.3,182.5 1249.3,180.5 1251.3,178.5 C1253.3,176.5 1255.3,174.6 1257.3,172.7 C1259.3,170.8 1261.3,168.9 1263.3,167.1 C1265.3,165.2 1267.3,163.4 1269.3,161.6 C1271.3,159.8 1273.3,158.0 1275.3,156.3 C1277.3,154.5 1279.3,152.8 1281.3,151.1 C1283.3,149.4 1285.3,147.7 1287.3,146.1 C1289.3,144.4 1291.3,142.8 1293.3,141.2 C1295.3,139.6 1297.3,138.1 1299.3,136.5 C1301.3,135.0 1303.3,133.4 1305.3,131.9 C1307.3,130.5 1309.3,129.0 1311.3,127.5 C1313.3,126.1 1315.3,124.7 1317.3,123.3 C1319.3,121.8 1321.3,120.5 1323.3,119.1 C1325.3,117.8 1327.3,116.4 1329.3,115.1 C1331.3,113.8 1333.3,112.5 1335.3,111.2 C1337.3,110.0 1339.3,108.7 1341.3,107.5 C1343.3,106.3 1345.3,105.1 1347.3,103.9 C1349.3,102.7 1351.3,101.6 1353.3,100.4 C1355.3,99.3 1357.3,98.2 1359.3,97.1 C1361.3,96.0 1363.3,94.9 1365.3,93.8 C1367.3,92.8 1369.3,91.7 1371.3,90.7 C1373.3,89.7 1375.3,88.7 1377.3,87.7 C1379.3,86.7 1381.5,85.7 1383.3,84.8 C1385.1,84.0 1387.2,83.0 1388.0,82.6" stroke="#1a7045"/>
<path d="M1007.3,475.1 C1008.3,473.3 1011.3,468.1 1013.3,464.7 C1015.3,461.2 1017.3,457.8 1019.3,454.4 C1021.3,451.0 1023.3,447.7 1025.3,444.3 C1027.3,441.0 1029.3,437.6 1031.3,434.3 C1033.3,431.0 1035.3,427.7 1037.3,424.5 C1039.3,421.2 1041.3,418.0 1043.3,414.8 C1045.3,411.5 1047.3,408.3 1049.3,405.2 C1051.3,402.0 1053.3,398.8 1055.3,395.7 C1057.3,392.6 1059.3,389.5 1061.3,386.4 C1063.3,383.3 1065.3,380.2 1067.3,377.2 C1069.3,374.2 1071.3,371.1 1073.3,368.1 C1075.3,365.2 1077.3,362.2 1079.3,359.2 C1081.3,356.3 1083.3,353.3 1085.3,350.4 C1087.3,347.5 1089.3,344.6 1091.3,341.8 C1093.3,338.9 1095.3,336.0 1097.3,333.2 C1099.3,330.4 1101.3,327.6 1103.3,324.8 C1105.3,322.0 1107.3,319.3 1109.3,316.5 C1111.3,313.8 1113.3,311.1 1115.3,308.4 C1117.3,305.7 1119.3,303.0 1121.3,300.4 C1123.3,297.7 1125.3,295.1 1127.3,292.5 C1129.3,289.9 1131.3,287.3 1133.3,284.8 C1135.3,282.2 1137.3,279.7 1139.3,277.1 C1141.3,274.6 1143.3,272.1 1145.3,269.7 C1147.3,267.2 1149.3,264.7 1151.3,262.3 C1153.3,259.9 1155.3,257.4 1157.3,255.1 C1159.3,252.7 1161.3,250.3 1163.3,248.0 C1165.3,245.6 1167.3,243.3 1169.3,241.0 C1171.3,238.7 1173.3,236.4 1175.3,234.1 C1177.3,231.9 1179.3,229.6 1181.3,227.4 C1183.3,225.2 1185.3,223.0 1187.3,220.8 C1189.3,218.7 1191.3,216.5 1193.3,214.4 C1195.3,212.2 1197.3,210.1 1199.3,208.0 C1201.3,206.0 1203.3,203.9 1205.3,201.8 C1207.3,199.8 1209.3,197.8 1211.3,195.8 C1213.3,193.8 1215.3,191.8 1217.3,189.8 C1219.3,187.9 1221.3,185.9 1223.3,184.0 C1225.3,182.1 1227.3,180.2 1229.3,178.3 C1231.3,176.4 1233.3,174.6 1235.3,172.8 C1237.3,170.9 1239.3,169.1 1241.3,167.3 C1243.3,165.5 1245.3,163.8 1247.3,162.0 C1249.3,160.3 1251.3,158.5 1253.3,156.8 C1255.3,155.1 1257.3,153.4 1259.3,151.8 C1261.3,150.1 1263.3,148.5 1265.3,146.9 C1267.3,145.2 1269.3,143.6 1271.3,142.1 C1273.3,140.5 1275.3,138.9 1277.3,137.4 C1279.3,135.8 1281.3,134.3 1283.3,132.8 C1285.3,131.3 1287.3,129.9 1289.3,128.4 C1291.3,127.0 1293.3,125.5 1295.3,124.1 C1297.3,122.7 1299.3,121.3 1301.3,120.0 C1303.3,118.6 1305.3,117.2 1307.3,115.9 C1309.3,114.6 1311.3,113.3 1313.3,112.0 C1315.3,110.7 1317.3,109.4 1319.3,108.2 C1321.3,107.0 1323.3,105.7 1325.3,104.5 C1327.3,103.3 1329.3,102.2 1331.3,101.0 C1333.3,99.8 1335.3,98.7 1337.3,97.6 C1339.3,96.5 1341.3,95.4 1343.3,94.3 C1345.3,93.2 1347.3,92.2 1349.3,91.1 C1351.3,90.1 1353.3,89.1 1355.3,88.1 C1357.3,87.1 1359.3,86.1 1361.3,85.2 C1363.3,84.2 1365.3,83.3 1367.3,82.4 C1369.3,81.5 1371.3,80.6 1373.3,79.7 C1375.3,78.8 1377.3,78.0 1379.3,77.1 C1381.3,76.3 1383.8,75.3 1385.3,74.7 C1386.8,74.1 1387.5,73.9 1388.0,73.7" stroke="#2893bb"/>
<path d="M831.8,475.5 C832.8,474.4 835.8,470.9 837.8,468.6 C839.8,466.3 841.8,464.0 843.8,461.6 C845.8,459.3 847.8,457.0 849.8,454.7 C851.8,452.4 853.8,450.1 855.8,447.7 C857.8,445.4 859.8,443.1 861.8,440.8 C863.8,438.5 865.8,436.2 867.8,433.8 C869.8,431.5 871.8,429.2 873.8,426.9 C875.8,424.6 877.8,422.3 879.8,420.0 C881.8,417.7 883.8,415.3 885.8,413.0 C887.8,410.7 889.8,408.4 891.8,406.1 C893.8,403.8 895.8,401.5 897.8,399.2 C899.8,396.9 901.8,394.6 903.8,392.3 C905.8,390.1 907.8,387.8 909.8,385.5 C911.8,383.2 913.8,380.9 915.8,378.6 C917.8,376.4 919.8,374.1 921.8,371.8 C923.8,369.5 925.8,367.3 927.8,365.0 C929.8,362.8 931.8,360.5 933.8,358.2 C935.8,356.0 937.8,353.7 939.8,351.5 C941.8,349.3 943.8,347.0 945.8,344.8 C947.8,342.6 949.8,340.3 951.8,338.1 C953.8,335.9 955.8,333.7 957.8,331.5 C959.8,329.3 961.8,327.1 963.8,324.9 C965.8,322.7 967.8,320.5 969.8,318.3 C971.8,316.1 973.8,313.9 975.8,311.8 C977.8,309.6 979.8,307.4 981.8,305.3 C983.8,303.1 985.8,301.0 987.8,298.9 C989.8,296.7 991.8,294.6 993.8,292.5 C995.8,290.4 997.8,288.2 999.8,286.1 C1001.8,284.0 1003.8,281.9 1005.8,279.9 C1007.8,277.8 1009.8,275.7 1011.8,273.6 C1013.8,271.6 1015.8,269.5 1017.8,267.5 C1019.8,265.4 1021.8,263.4 1023.8,261.3 C1025.8,259.3 1027.8,257.3 1029.8,255.3 C1031.8,253.3 1033.8,251.3 1035.8,249.3 C1037.8,247.3 1039.8,245.3 1041.8,243.4 C1043.8,241.4 1045.8,239.5 1047.8,237.5 C1049.8,235.6 1051.8,233.7 1053.8,231.7 C1055.8,229.8 1057.8,227.9 1059.8,226.0 C1061.8,224.1 1063.8,222.3 1065.8,220.4 C1067.8,218.5 1069.8,216.7 1071.8,214.8 C1073.8,213.0 1075.8,211.2 1077.8,209.3 C1079.8,207.5 1081.8,205.7 1083.8,203.9 C1085.8,202.1 1087.8,200.4 1089.8,198.6 C1091.8,196.9 1093.8,195.1 1095.8,193.4 C1097.8,191.6 1099.8,189.9 1101.8,188.2 C1103.8,186.5 1105.8,184.8 1107.8,183.2 C1109.8,181.5 1111.8,179.8 1113.8,178.2 C1115.8,176.5 1117.8,174.9 1119.8,173.3 C1121.8,171.7 1123.8,170.1 1125.8,168.5 C1127.8,166.9 1129.8,165.4 1131.8,163.8 C1133.8,162.3 1135.8,160.8 1137.8,159.2 C1139.8,157.7 1141.8,156.2 1143.8,154.7 C1145.8,153.2 1147.8,151.8 1149.8,150.3 C1151.8,148.9 1153.8,147.4 1155.8,146.0 C1157.8,144.6 1159.8,143.2 1161.8,141.8 C1163.8,140.4 1165.8,139.0 1167.8,137.6 C1169.8,136.3 1171.8,134.9 1173.8,133.6 C1175.8,132.3 1177.8,130.9 1179.8,129.6 C1181.8,128.3 1183.8,127.1 1185.8,125.8 C1187.8,124.5 1189.8,123.3 1191.8,122.0 C1193.8,120.8 1195.8,119.5 1197.8,118.3 C1199.8,117.1 1201.8,115.9 1203.8,114.7 C1205.8,113.6 1207.8,112.4 1209.8,111.3 C1211.8,110.1 1213.8,109.0 1215.8,107.8 C1217.8,106.7 1219.8,105.6 1221.8,104.5 C1223.8,103.4 1225.8,102.4 1227.8,101.3 C1229.8,100.2 1231.8,99.2 1233.8,98.2 C1235.8,97.1 1237.8,96.1 1239.8,95.1 C1241.8,94.1 1243.8,93.1 1245.8,92.2 C1247.8,91.2 1249.8,90.2 1251.8,89.3 C1253.8,88.4 1255.8,87.4 1257.8,86.5 C1259.8,85.6 1261.8,84.7 1263.8,83.8 C1265.8,82.9 1267.8,82.1 1269.8,81.2 C1271.8,80.4 1273.8,79.5 1275.8,78.7 C1277.8,77.9 1279.8,77.1 1281.8,76.3 C1283.8,75.5 1285.8,74.7 1287.8,73.9 C1289.8,73.2 1291.8,72.4 1293.8,71.7 C1295.8,71.0 1297.8,70.2 1299.8,69.5 C1301.8,68.8 1303.8,68.1 1305.8,67.5 C1307.8,66.8 1309.8,66.1 1311.8,65.5 C1313.8,64.8 1315.8,64.2 1317.8,63.6 C1319.8,62.9 1321.8,62.3 1323.8,61.8 C1325.8,61.2 1327.8,60.6 1329.8,60.0 C1331.8,59.5 1333.8,58.9 1335.8,58.4 C1337.8,57.8 1339.8,57.3 1341.8,56.8 C1343.8,56.3 1345.8,55.8 1347.8,55.3 C1349.8,54.9 1351.8,54.4 1353.8,54.0 C1355.8,53.5 1357.8,53.1 1359.8,52.7 C1361.8,52.2 1363.8,51.8 1365.8,51.4 C1367.8,51.0 1369.8,50.7 1371.8,50.3 C1373.8,49.9 1375.8,49.6 1377.8,49.3 C1379.8,48.9 1382.1,48.6 1383.8,48.3 C1385.5,48.0 1387.3,47.8 1388.0,47.7" stroke="#5e1018"/>
<path d="M819.0,423.2 C820.0,422.4 822.8,420.2 824.7,418.2 C826.6,416.2 828.5,413.0 830.4,411.1 C832.3,409.2 833.9,408.2 836.0,406.8 C838.1,405.4 841.0,404.2 843.1,402.6 C845.2,401.0 847.1,398.8 848.8,396.9 C850.5,395.0 851.2,393.2 853.1,391.2 C855.0,389.2 858.3,386.8 860.2,384.8 C862.1,382.8 862.9,380.9 864.5,379.1 C866.1,377.3 868.2,375.8 870.1,374.1 C872.0,372.5 873.9,370.9 875.8,369.2 C877.7,367.5 879.6,366.0 881.5,364.2 C883.4,362.4 885.3,360.5 887.2,358.5 C889.1,356.5 891.4,354.4 892.9,352.1 C894.4,349.8 894.6,346.7 896.5,344.5 C898.4,342.3 901.6,340.9 904.1,338.7 C906.6,336.5 909.1,333.6 911.6,331.1 C914.1,328.6 916.7,326.2 919.2,323.6 C921.7,321.0 924.2,318.2 926.7,315.3 C929.2,312.4 931.8,309.0 934.3,306.2 C936.8,303.4 939.8,301.0 941.8,298.7 C943.8,296.4 944.6,294.6 946.4,292.6 C948.2,290.6 950.4,288.5 952.4,286.6 C954.4,284.7 955.9,283.7 958.4,281.3 C960.9,278.9 964.8,275.2 967.6,272.5 C970.4,269.8 972.6,267.6 975.1,265.2 C977.6,262.8 980.4,260.8 982.7,258.4 C985.0,256.0 986.7,253.2 988.7,250.9 C990.7,248.6 992.4,246.6 994.7,244.8 C997.0,243.0 999.8,242.1 1002.3,240.3 C1004.8,238.6 1007.3,236.4 1009.8,234.3 C1012.3,232.2 1014.9,229.8 1017.4,227.5 C1019.9,225.2 1022.4,223.1 1024.9,220.7 C1027.4,218.3 1030.0,215.7 1032.5,213.1 C1035.0,210.5 1037.5,207.5 1040.0,205.2 C1042.5,202.8 1045.1,201.2 1047.6,199.0 C1050.1,196.8 1051.3,195.5 1055.1,192.0 C1058.9,188.5 1065.2,182.3 1070.2,177.9 C1075.2,173.5 1080.3,169.6 1085.3,165.8 C1090.3,162.0 1095.5,158.3 1100.0,155.2 C1104.5,152.1 1108.2,149.9 1112.4,147.2 C1116.6,144.5 1120.8,141.8 1124.9,139.1 C1129.1,136.4 1133.2,133.6 1137.3,131.0 C1141.4,128.4 1145.6,126.1 1149.8,123.6 C1154.0,121.1 1158.1,118.5 1162.2,116.1 C1166.3,113.7 1170.4,111.6 1174.6,109.3 C1178.8,107.0 1182.5,105.0 1187.1,102.4 C1191.7,99.8 1197.8,96.0 1202.4,93.5 C1207.0,91.0 1210.8,89.3 1214.9,87.3 C1219.1,85.3 1223.2,83.6 1227.3,81.7 C1231.4,79.8 1235.6,77.9 1239.8,76.1 C1244.0,74.3 1248.1,72.6 1252.2,71.1 C1256.3,69.5 1258.8,68.3 1264.6,66.8 C1270.4,65.3 1280.0,63.6 1287.0,62.0 C1294.0,60.4 1299.5,58.8 1306.3,57.0 C1313.1,55.2 1320.5,53.0 1327.6,51.1 C1334.7,49.2 1341.9,47.3 1349.0,45.8 C1356.1,44.3 1363.8,43.2 1370.3,42.1 C1376.8,41.0 1385.0,39.9 1388.0,39.4" stroke="#e08238"/>
</g>
<text x="-2.5" y="24.3" class="pl">a</text>
<text x="691.5" y="24.3" class="pl">b</text>
<g transform="translate(33.5,376.0) rotate(-90)"><text x="2" y="0" class="yl" font-style="italic">j</text><text x="8.4" y="6.5" class="sub3">ORR</text><text x="60.2" y="0" class="yl">(mA cm</text><text x="158.5" y="6" class="sub2">geometric</text><text x="262" y="-9.8" class="sup">-2</text><text x="279" y="0" class="yl">)</text></g>
<g transform="translate(725.9,377.5) rotate(-90)"><text x="2" y="0" class="yl" font-style="italic">j</text><text x="8.4" y="6.5" class="sub3">ORR</text><text x="60.2" y="0" class="yl">(mA cm</text><text x="158.5" y="6" class="sub2">geometric</text><text x="262" y="-9.8" class="sup">-2</text><text x="279" y="0" class="yl">)</text></g>
<g transform="translate(392.4,555.3) scale(0.93,1)"><text x="-55.5" y="0" class="xl" font-style="italic">E</text><text x="-28.3" y="0" class="xl">(V<tspan class="sub" dy="7.5">RHE</tspan><tspan dy="-7.5">)</tspan></text></g>
<g transform="translate(1104.0,555.3) scale(0.93,1)"><text x="-55.5" y="0" class="xl" font-style="italic">E</text><text x="-28.3" y="0" class="xl">(V<tspan class="sub" dy="7.5">RHE</tspan><tspan dy="-7.5">)</tspan></text></g>
</svg>
</body></html>
